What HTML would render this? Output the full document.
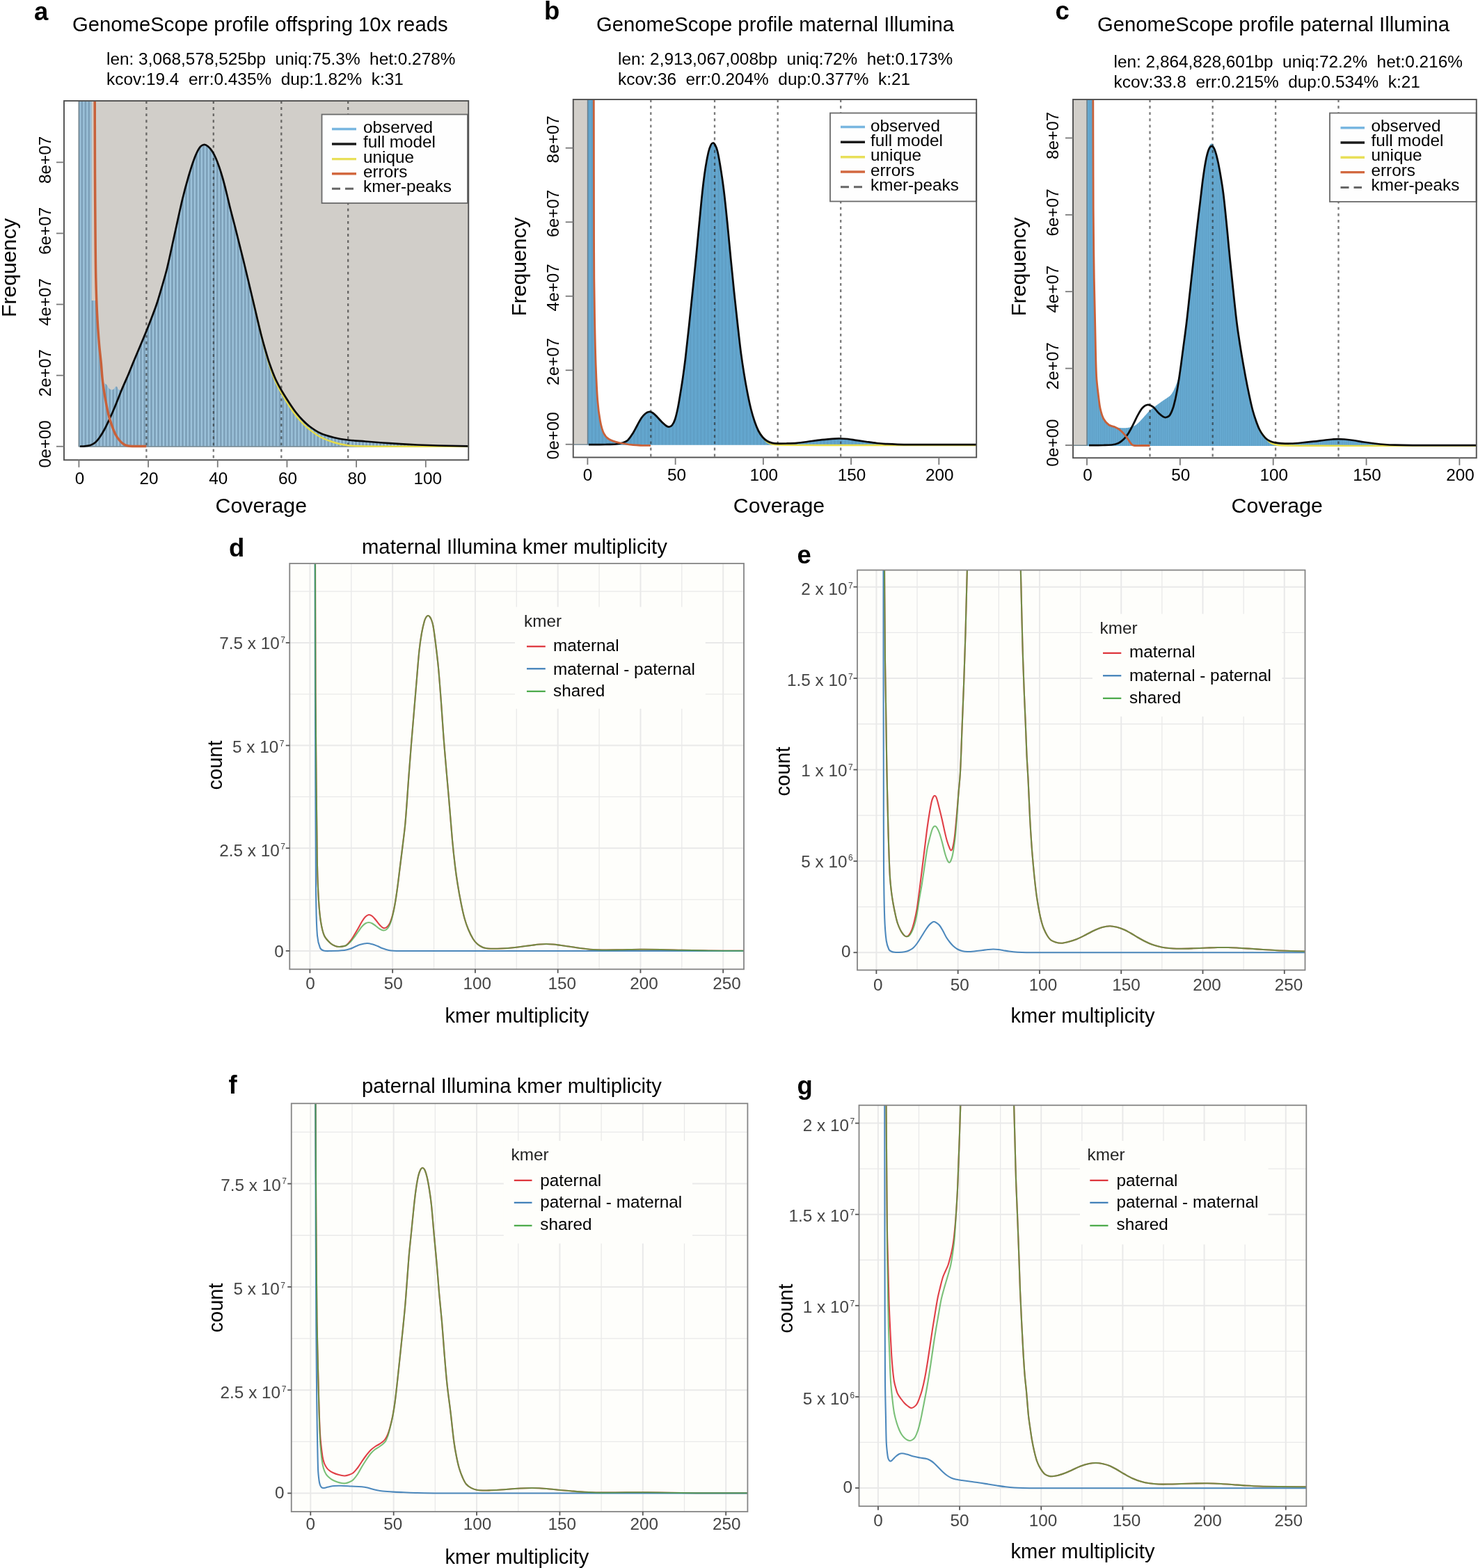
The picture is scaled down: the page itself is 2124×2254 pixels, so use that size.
<!DOCTYPE html>
<html lang="en">
<head>
<meta charset="utf-8">
<title>GenomeScope profiles and kmer multiplicity</title>
<style>
html,body{margin:0;padding:0;background:#fff;}
body{width:2124px;height:2254px;overflow:hidden;font-family:"Liberation Sans",Arial,Helvetica,sans-serif;}
svg{display:block;}
text{font-family:"Liberation Sans",Arial,Helvetica,sans-serif;}
</style>
</head>
<body>
<svg xmlns="http://www.w3.org/2000/svg" width="2124" height="2254" viewBox="0 0 2124 2254" font-family="'Liberation Sans', Arial, Helvetica, sans-serif" role="img" aria-label="GenomeScope profiles and k-mer multiplicity plots">
<defs><pattern id="stripeA" patternUnits="userSpaceOnUse" x="113.4" y="0" width="4.984" height="8"><rect x="0" y="0" width="4.984" height="8" fill="#7c9fb8"/><rect x="0.9" y="0" width="2.2" height="8" fill="#9fc5dd"/></pattern><pattern id="stripeB" patternUnits="userSpaceOnUse" x="844.4" y="0" width="5.054" height="8"><rect x="0" y="0" width="5.054" height="8" fill="#64a7cf"/><rect x="0" y="0" width="2.5" height="8" fill="#5f9fc6"/></pattern><pattern id="stripeC" patternUnits="userSpaceOnUse" x="1562" y="0" width="2.68" height="8"><rect x="0" y="0" width="2.68" height="8" fill="#69aed6"/><rect x="0" y="0" width="1.2" height="8" fill="#5c9cc3"/></pattern><clipPath id="ca"><rect x="92" y="145" width="581.25" height="516.25"/></clipPath><clipPath id="cb"><rect x="823.75" y="143" width="579.45" height="514.5"/></clipPath><clipPath id="cc"><rect x="1542" y="143" width="579.75" height="515.25"/></clipPath><clipPath id="cd"><rect x="416.25" y="810" width="652.75" height="583.3"/></clipPath><clipPath id="ce"><rect x="1232" y="819.5" width="643.5" height="575"/></clipPath><clipPath id="cf"><rect x="418.75" y="1586.25" width="655.65" height="586.75"/></clipPath><clipPath id="cg"><rect x="1234.5" y="1588.75" width="642.8" height="576.45"/></clipPath></defs>
<g id="panel-a">
<rect x="92" y="145" width="581.25" height="516.25" fill="#fff"/>
<rect x="113.4" y="145" width="559.85" height="496.75" fill="#d1cec9"/>
<g clip-path="url(#ca)">
<path d="M113.4 641.75L113.4 145L131.6 145L131.6 432L137.6 432L138.5 440C138.83 443.33 139.26 446.66 139.5 450C140.59 464.99 141.29 480.02 142.5 495C143.23 504.02 144.42 512.99 145.3 522C146.08 530 146.21 538.07 147.5 546C147.8 547.84 148.82 549.56 150 551C150.67 551.82 152.08 551.72 152.8 552.5C154.6 554.45 155.29 557.39 157.4 559C158.8 560.07 160.94 560.59 162.6 560C164.62 559.28 165.05 555.5 167.2 555.5C169.06 555.5 168.89 559.07 170.5 560C171.8 560.75 174.2 561.27 175 560C179.46 552.93 181.75 544.7 185 537C187.59 530.87 189.95 524.65 192.5 518.5C195.62 510.98 198.85 503.51 202 496C204.93 489.01 207.9 482.03 210.75 475C213.24 468.86 215.65 462.69 218 456.5C220.4 450.19 222.87 443.9 225 437.5C227.53 429.9 229.76 422.19 232 414.5C234.76 405.03 237.65 395.58 240 386C243.66 371.08 246.66 356 250 341C254.16 322.33 258.01 303.59 262.5 285C265.34 273.25 268.56 261.59 272 250C274.4 241.92 276.9 233.84 280 226C281.92 221.15 283.95 216.23 287 212C288.41 210.05 290.61 208.3 293 208C295.15 207.73 297.3 209.16 299 210.5C301.41 212.41 303.3 214.94 305 217.5C306.98 220.48 308.55 223.73 310 227C311.89 231.24 313.49 235.61 315 240C316.82 245.28 318.46 250.63 320 256C321.8 262.3 323.41 268.65 325 275C327.08 283.31 328.92 291.69 331 300C333.09 308.35 335.37 316.66 337.5 325C339.71 333.66 341.83 342.33 344 351C346 359 348.04 366.99 350 375C352.04 383.32 354.02 391.66 356 400C358.18 409.16 360.33 418.33 362.5 427.5C364.67 436.67 366.82 445.84 369 455C370.98 463.34 372.88 471.7 375 480C376.88 487.36 378.88 494.7 381 502C383.05 509.04 385.09 516.08 387.5 523C390.09 530.42 392.78 537.83 396 545C398.62 550.85 401.8 556.44 405 562C408.14 567.45 411.55 572.74 415 578C418.22 582.91 421.42 587.85 425 592.5C428.1 596.53 431.45 600.36 435 604C438.13 607.21 441.4 610.33 445 613C449.76 616.52 454.62 620.04 460 622.5C466.38 625.41 473.2 627.3 480 629C486.57 630.64 493.28 631.68 500 632.5C508.3 633.51 516.67 633.83 525 634.5C533.33 635.17 541.66 635.88 550 636.5C558.33 637.12 566.66 637.7 575 638.2C583.33 638.7 591.66 639.15 600 639.5C610 639.92 620 640.25 630 640.5C644.16 640.85 658.33 641.03 672.5 641.3L673.3 641.75Z" fill="url(#stripeA)" stroke="none" stroke-width="1"/>
<line x1="113.4" y1="145" x2="113.4" y2="642.25" stroke="#6b7f8a" stroke-width="1.6"/>
<line x1="113.4" y1="642.05" x2="673" y2="642.05" stroke="#70858f" stroke-width="1.6"/>
<line x1="210.4" y1="145" x2="210.4" y2="661.25" stroke="#262626" stroke-width="2.3" stroke-dasharray="3.9 5.2" stroke-opacity="0.62"/>
<line x1="306.8" y1="145" x2="306.8" y2="661.25" stroke="#262626" stroke-width="2.3" stroke-dasharray="3.9 5.2" stroke-opacity="0.62"/>
<line x1="404.3" y1="145" x2="404.3" y2="661.25" stroke="#262626" stroke-width="2.3" stroke-dasharray="3.9 5.2" stroke-opacity="0.62"/>
<line x1="500.2" y1="145" x2="500.2" y2="661.25" stroke="#262626" stroke-width="2.3" stroke-dasharray="3.9 5.2" stroke-opacity="0.62"/>
<path d="M362.5 427.5C364.67 436.67 366.82 445.84 369 455C370.98 463.34 372.94 471.68 375 480C376.94 487.85 378.86 495.7 381 503.5C383.03 510.87 385.08 518.25 387.5 525.5C390.08 533.25 392.76 541 396 548.5C398.6 554.52 401.8 560.27 405 566C408.14 571.61 411.51 577.1 415 582.5C418.18 587.43 421.42 592.35 425 597C428.1 601.03 431.45 604.86 435 608.5C438.13 611.71 441.46 614.74 445 617.5C449.81 621.25 454.6 625.15 460 628C466.35 631.36 473.14 633.89 480 636C486.52 638 493.23 639.47 500 640.3C508.28 641.31 516.66 641.37 525 641.5C550 641.87 575 641.73 600 641.8C624.17 641.87 648.33 641.87 672.5 641.9" fill="none" stroke="#e6dc4a" stroke-width="2.4"/>
<path d="M115 641.7C117.33 641.57 119.68 641.56 122 641.3C124.68 641 127.45 640.9 130 640C132.53 639.1 134.95 637.74 137 636C139.35 634.01 141.23 631.51 143 629C145.58 625.33 147.88 621.46 150 617.5C152.89 612.11 155.44 606.55 158 601C160.44 595.71 162.77 590.38 165 585C168.44 576.71 171.55 568.28 175 560C178.22 552.28 181.75 544.7 185 537C187.59 530.87 189.95 524.65 192.5 518.5C195.62 510.98 198.85 503.51 202 496C204.93 489.01 207.9 482.03 210.75 475C213.24 468.86 215.65 462.69 218 456.5C220.4 450.19 222.87 443.9 225 437.5C227.53 429.9 229.76 422.19 232 414.5C234.76 405.03 237.65 395.58 240 386C243.66 371.08 246.66 356 250 341C254.16 322.33 258.01 303.59 262.5 285C265.34 273.25 268.56 261.59 272 250C274.4 241.92 276.9 233.84 280 226C281.92 221.15 283.95 216.23 287 212C288.41 210.05 290.61 208.3 293 208C295.15 207.73 297.3 209.16 299 210.5C301.41 212.41 303.3 214.94 305 217.5C306.98 220.48 308.55 223.73 310 227C311.89 231.24 313.49 235.61 315 240C316.82 245.28 318.46 250.63 320 256C321.8 262.3 323.41 268.65 325 275C327.08 283.31 328.92 291.69 331 300C333.09 308.35 335.37 316.66 337.5 325C339.71 333.66 341.83 342.33 344 351C346 359 348.04 366.99 350 375C352.04 383.32 354.02 391.66 356 400C358.18 409.16 360.33 418.33 362.5 427.5C364.67 436.67 366.82 445.84 369 455C370.98 463.34 372.88 471.7 375 480C376.88 487.36 378.88 494.7 381 502C383.05 509.04 385.09 516.08 387.5 523C390.09 530.42 392.78 537.83 396 545C398.62 550.85 401.8 556.44 405 562C408.14 567.45 411.55 572.74 415 578C418.22 582.91 421.42 587.85 425 592.5C428.1 596.53 431.45 600.36 435 604C438.13 607.21 441.4 610.33 445 613C449.76 616.52 454.62 620.04 460 622.5C466.38 625.41 473.2 627.3 480 629C486.57 630.64 493.28 631.68 500 632.5C508.3 633.51 516.67 633.83 525 634.5C533.33 635.17 541.66 635.88 550 636.5C558.33 637.12 566.66 637.7 575 638.2C583.33 638.7 591.66 639.15 600 639.5C610 639.92 620 640.25 630 640.5C644.16 640.85 658.33 641.03 672.5 641.3" fill="none" stroke="#0a0a0a" stroke-width="2.75" stroke-linejoin="round"/>
<path d="M136.2 140C136.3 176.67 136.35 213.33 136.5 250C136.61 276.67 136.77 303.33 137 330C137.2 353.33 137.31 376.67 137.8 400C138.15 416.67 138.68 433.34 139.5 450C140.24 465.01 141.29 480.02 142.5 495C143.23 504.02 144.45 512.99 145.3 522C146.12 530.66 146.48 539.36 147.5 548C148.48 556.37 149.85 564.7 151.3 573C152.62 580.53 154 588.07 155.8 595.5C157.04 600.61 158.67 605.63 160.4 610.6C161.98 615.14 163.54 619.71 165.7 624C167.32 627.22 169.4 630.22 171.7 633C173.43 635.09 175.47 636.96 177.7 638.5C179.28 639.59 181.13 640.34 183 640.8C185.28 641.36 187.66 641.44 190 641.5C196.73 641.67 203.47 641.5 210.2 641.5" fill="none" stroke="#c8613a" stroke-width="3.5" stroke-linejoin="round" stroke-linecap="butt"/>
</g>
<rect x="462.5" y="164.5" width="209.5" height="127.5" fill="#fefefe" stroke="#6a6a6a" stroke-width="1.8"/>
<line x1="477" y1="185.5" x2="512" y2="185.5" stroke="#78b6e0" stroke-width="3.4"/>
<text x="522" y="190.5" font-size="24.3">observed</text>
<line x1="477" y1="207" x2="512" y2="207" stroke="#1a1a1a" stroke-width="3.4"/>
<text x="522" y="212" font-size="24.3">full model</text>
<line x1="477" y1="228.6" x2="512" y2="228.6" stroke="#e8df58" stroke-width="3.4"/>
<text x="522" y="233.6" font-size="24.3">unique</text>
<line x1="477" y1="249.8" x2="512" y2="249.8" stroke="#d2683f" stroke-width="3.4"/>
<text x="522" y="255.2" font-size="24.3">errors</text>
<line x1="477" y1="271.3" x2="508" y2="271.3" stroke="#666" stroke-width="3" stroke-dasharray="12 7"/>
<text x="522" y="275.5" font-size="24.3">kmer-peaks</text>
<rect x="92" y="145" width="581.25" height="516.25" fill="none" stroke="#505050" stroke-width="1.9"/>
<line x1="113.4" y1="661.25" x2="113.4" y2="671.75" stroke="#7a7a7a" stroke-width="1.8"/>
<text x="114.4" y="696.2" font-size="24.3" text-anchor="middle">0</text>
<line x1="213.08" y1="661.25" x2="213.08" y2="671.75" stroke="#7a7a7a" stroke-width="1.8"/>
<text x="214.08" y="696.2" font-size="24.3" text-anchor="middle">20</text>
<line x1="312.76" y1="661.25" x2="312.76" y2="671.75" stroke="#7a7a7a" stroke-width="1.8"/>
<text x="313.76" y="696.2" font-size="24.3" text-anchor="middle">40</text>
<line x1="412.44" y1="661.25" x2="412.44" y2="671.75" stroke="#7a7a7a" stroke-width="1.8"/>
<text x="413.44" y="696.2" font-size="24.3" text-anchor="middle">60</text>
<line x1="512.12" y1="661.25" x2="512.12" y2="671.75" stroke="#7a7a7a" stroke-width="1.8"/>
<text x="513.12" y="696.2" font-size="24.3" text-anchor="middle">80</text>
<line x1="611.8" y1="661.25" x2="611.8" y2="671.75" stroke="#7a7a7a" stroke-width="1.8"/>
<text x="614.8" y="696.2" font-size="24.3" text-anchor="middle">100</text>
<line x1="81" y1="641.75" x2="92" y2="641.75" stroke="#7a7a7a" stroke-width="1.8"/>
<text x="73" y="638.25" font-size="24.3" text-anchor="middle" transform="rotate(-90 73 638.25)">0e+00</text>
<line x1="81" y1="539.65" x2="92" y2="539.65" stroke="#7a7a7a" stroke-width="1.8"/>
<text x="73" y="536.15" font-size="24.3" text-anchor="middle" transform="rotate(-90 73 536.15)">2e+07</text>
<line x1="81" y1="437.55" x2="92" y2="437.55" stroke="#7a7a7a" stroke-width="1.8"/>
<text x="73" y="434.05" font-size="24.3" text-anchor="middle" transform="rotate(-90 73 434.05)">4e+07</text>
<line x1="81" y1="335.45" x2="92" y2="335.45" stroke="#7a7a7a" stroke-width="1.8"/>
<text x="73" y="331.95" font-size="24.3" text-anchor="middle" transform="rotate(-90 73 331.95)">6e+07</text>
<line x1="81" y1="233.35" x2="92" y2="233.35" stroke="#7a7a7a" stroke-width="1.8"/>
<text x="73" y="229.85" font-size="24.3" text-anchor="middle" transform="rotate(-90 73 229.85)">8e+07</text>
<text x="375.3" y="737" font-size="30.3" text-anchor="middle">Coverage</text>
<text x="23.2" y="384.8" font-size="30.1" text-anchor="middle" transform="rotate(-90 23.2 384.8)">Frequency</text>
<text x="104" y="44.5" font-size="29.28">GenomeScope profile offspring 10x reads</text>
<text x="153" y="93" font-size="24.38" xml:space="preserve">len: 3,068,578,525bp  uniq:75.3%  het:0.278%</text>
<text x="153" y="122" font-size="24.38" xml:space="preserve">kcov:19.4  err:0.435%  dup:1.82%  k:31</text>
<text x="49" y="29" font-size="36.5" font-weight="bold">a</text>
</g>
<g id="panel-b">
<rect x="823.75" y="143" width="579.45" height="514.5" fill="#fff"/>
<rect x="823.75" y="143" width="19.65" height="495.75" fill="#d1cec9"/>
<g clip-path="url(#cb)">
<path d="M844.4 639.75L844.4 143L853.3 143L853.5 300C853.6 333.33 853.55 366.67 853.8 400C853.98 423.34 854.35 446.67 854.8 470C855.15 488.34 855.52 506.67 856.2 525C856.82 541.68 857.39 558.36 858.7 575C859.49 585.05 860.66 595.09 862.5 605C863.61 610.97 864.9 617.02 867.5 622.5C869.15 625.98 871.7 629.32 875 631.3C879.49 634 884.79 635.44 890 636C893.38 636.37 896.7 634.82 900 634C900.72 633.82 901.52 633.57 902 633C904.9 629.52 907.57 625.83 910 622C912.24 618.48 913.96 614.65 916 611C917.96 607.48 919.7 603.81 922 600.5C923.55 598.27 925.39 596.21 927.5 594.5C928.95 593.33 930.65 592.18 932.5 592C934.39 591.82 936.4 592.48 938 593.5C940.68 595.22 942.75 597.75 945 600C947.42 602.42 949.53 605.13 952 607.5C953.88 609.3 955.77 611.16 958 612.5C959.18 613.21 960.65 613.75 962 613.5C963.55 613.21 965.05 612.25 966 611C967.81 608.63 969.06 605.83 970 603C971.74 597.78 972.88 592.38 974 587C975.38 580.37 976.39 573.68 977.5 567C978.72 559.68 979.94 552.35 981 545C982.44 535.01 983.8 525.02 985 515C986.8 500.02 988.39 485.01 990 470C991.72 454.01 993.35 438 995 422C996.68 405.67 998.4 389.34 1000 373C1001.73 355.34 1003.29 337.66 1005 320C1006.62 303.33 1008.13 286.64 1010 270C1011.13 259.97 1012.44 249.97 1014 240C1015.1 232.96 1016.35 225.93 1018 219C1018.85 215.41 1019.9 211.82 1021.5 208.5C1022.11 207.23 1023.09 205.62 1024.5 205.5C1025.8 205.39 1026.86 206.87 1027.5 208C1029.08 210.8 1030.22 213.88 1031 217C1032.73 223.91 1033.85 230.97 1035 238C1036.85 249.3 1038.58 260.63 1040 272C1041.91 287.3 1043.43 302.66 1045 318C1046.77 335.32 1048.3 352.67 1050 370C1051.63 386.67 1053.26 403.34 1055 420C1056.6 435.34 1058.29 450.67 1060 466C1061.45 479.01 1062.82 492.02 1064.5 505C1065.89 515.69 1067.48 526.36 1069.2 537C1070.71 546.36 1072.38 555.7 1074.2 565C1075.71 572.7 1077.29 580.39 1079.2 588C1080.72 594.07 1082.47 600.08 1084.5 606C1086.08 610.6 1087.79 615.17 1090 619.5C1091.64 622.71 1093.65 625.77 1096 628.5C1097.85 630.65 1100.06 632.55 1102.5 634C1104.8 635.36 1107.4 636.2 1110 636.8C1112.61 637.41 1115.32 637.51 1118 637.6C1122 637.74 1126 637.62 1130 637.5C1135 637.35 1140.01 637.22 1145 636.8C1150.02 636.38 1155.01 635.67 1160 635C1165.01 634.33 1169.98 633.42 1175 632.8C1179.99 632.18 1184.99 631.74 1190 631.3C1193.33 631.01 1196.66 630.75 1200 630.6C1202.66 630.48 1205.33 630.44 1208 630.5C1211.34 630.57 1214.68 630.65 1218 631C1222.02 631.42 1226 632.21 1230 632.8C1235 633.54 1240 634.3 1245 635C1250 635.7 1254.98 636.46 1260 637C1264.99 637.53 1269.99 637.9 1275 638.2C1280 638.5 1285 638.69 1290 638.8C1296.67 638.95 1303.33 638.99 1310 639C1341 639.05 1372 639 1403 639L1403 639.75Z" fill="url(#stripeB)" stroke="none" stroke-width="1"/>
<line x1="844.4" y1="143" x2="844.4" y2="639.25" stroke="#6d7f88" stroke-width="1.6"/>
<line x1="823.75" y1="639.05" x2="845" y2="639.05" stroke="#70858f" stroke-width="1.6"/>
<line x1="935.3" y1="143" x2="935.3" y2="657.5" stroke="#262626" stroke-width="2.3" stroke-dasharray="3.9 5.2" stroke-opacity="0.62"/>
<line x1="1027" y1="143" x2="1027" y2="657.5" stroke="#262626" stroke-width="2.3" stroke-dasharray="3.9 5.2" stroke-opacity="0.62"/>
<line x1="1117.7" y1="143" x2="1117.7" y2="657.5" stroke="#262626" stroke-width="2.3" stroke-dasharray="3.9 5.2" stroke-opacity="0.62"/>
<line x1="1208.2" y1="143" x2="1208.2" y2="657.5" stroke="#262626" stroke-width="2.3" stroke-dasharray="3.9 5.2" stroke-opacity="0.62"/>
<path d="M1090 619.5C1092 622.5 1093.78 625.66 1096 628.5C1097.96 631.01 1099.91 633.65 1102.5 635.5C1104.69 637.07 1107.4 637.81 1110 638.5C1112.6 639.19 1115.31 639.56 1118 639.6C1145.33 640.06 1172.67 639.94 1200 640C1233.33 640.07 1266.67 640 1300 640C1334.33 640 1368.67 640 1403 640" fill="none" stroke="#e6dc4a" stroke-width="2.4"/>
<path d="M846 639C854 639 862 639.1 870 639C875 638.94 880.02 639 885 638.5C888.38 638.16 891.77 637.55 895 636.5C897.48 635.7 900.12 634.81 902 633C905.26 629.85 907.57 625.83 910 622C912.24 618.48 913.96 614.65 916 611C917.96 607.48 919.7 603.81 922 600.5C923.55 598.27 925.39 596.21 927.5 594.5C928.95 593.33 930.65 592.18 932.5 592C934.39 591.82 936.4 592.48 938 593.5C940.68 595.22 942.75 597.75 945 600C947.42 602.42 949.53 605.13 952 607.5C953.88 609.3 955.77 611.16 958 612.5C959.18 613.21 960.65 613.75 962 613.5C963.55 613.21 965.05 612.25 966 611C967.81 608.63 969.06 605.83 970 603C971.74 597.78 972.88 592.38 974 587C975.38 580.37 976.39 573.68 977.5 567C978.72 559.68 979.94 552.35 981 545C982.44 535.01 983.8 525.02 985 515C986.8 500.02 988.39 485.01 990 470C991.72 454.01 993.35 438 995 422C996.68 405.67 998.4 389.34 1000 373C1001.73 355.34 1003.29 337.66 1005 320C1006.62 303.33 1008.13 286.64 1010 270C1011.13 259.97 1012.44 249.97 1014 240C1015.1 232.96 1016.35 225.93 1018 219C1018.85 215.41 1019.9 211.82 1021.5 208.5C1022.11 207.23 1023.09 205.62 1024.5 205.5C1025.8 205.39 1026.86 206.87 1027.5 208C1029.08 210.8 1030.22 213.88 1031 217C1032.73 223.91 1033.85 230.97 1035 238C1036.85 249.3 1038.58 260.63 1040 272C1041.91 287.3 1043.43 302.66 1045 318C1046.77 335.32 1048.3 352.67 1050 370C1051.63 386.67 1053.26 403.34 1055 420C1056.6 435.34 1058.29 450.67 1060 466C1061.45 479.01 1062.82 492.02 1064.5 505C1065.89 515.69 1067.48 526.36 1069.2 537C1070.71 546.36 1072.38 555.7 1074.2 565C1075.71 572.7 1077.29 580.39 1079.2 588C1080.72 594.07 1082.47 600.08 1084.5 606C1086.08 610.6 1087.79 615.17 1090 619.5C1091.64 622.71 1093.65 625.77 1096 628.5C1097.85 630.65 1100.06 632.55 1102.5 634C1104.8 635.36 1107.4 636.2 1110 636.8C1112.61 637.41 1115.32 637.51 1118 637.6C1122 637.74 1126 637.62 1130 637.5C1135 637.35 1140.01 637.22 1145 636.8C1150.02 636.38 1155.01 635.67 1160 635C1165.01 634.33 1169.98 633.42 1175 632.8C1179.99 632.18 1184.99 631.74 1190 631.3C1193.33 631.01 1196.66 630.75 1200 630.6C1202.66 630.48 1205.33 630.44 1208 630.5C1211.34 630.57 1214.68 630.65 1218 631C1222.02 631.42 1226 632.21 1230 632.8C1235 633.54 1240 634.3 1245 635C1250 635.7 1254.98 636.46 1260 637C1264.99 637.53 1269.99 637.9 1275 638.2C1280 638.5 1285 638.69 1290 638.8C1296.67 638.95 1303.33 638.99 1310 639C1341 639.05 1372 639 1403 639" fill="none" stroke="#0a0a0a" stroke-width="2.75" stroke-linejoin="round"/>
<path d="M853.3 138C853.37 192 853.4 246 853.5 300C853.56 333.33 853.55 366.67 853.8 400C853.98 423.34 854.35 446.67 854.8 470C855.15 488.34 855.52 506.67 856.2 525C856.82 541.68 857.39 558.36 858.7 575C859.49 585.05 860.66 595.09 862.5 605C863.61 610.97 864.9 617.02 867.5 622.5C869.15 625.98 871.73 629.26 875 631.3C879.49 634.1 884.85 635.27 890 636.5C896.57 638.08 903.3 638.9 910 639.7C913.98 640.17 918 640.2 922 640.3C926.33 640.4 930.67 640.3 935 640.3" fill="none" stroke="#c8613a" stroke-width="2.8" stroke-linejoin="round" stroke-linecap="butt"/>
</g>
<rect x="1193" y="162.5" width="210.2" height="127" fill="#fefefe" stroke="#6a6a6a" stroke-width="1.8"/>
<line x1="1208" y1="182.5" x2="1243" y2="182.5" stroke="#78b6e0" stroke-width="3.4"/>
<text x="1251" y="188.5" font-size="24.3">observed</text>
<line x1="1208" y1="204.2" x2="1243" y2="204.2" stroke="#1a1a1a" stroke-width="3.4"/>
<text x="1251" y="209.8" font-size="24.3">full model</text>
<line x1="1208" y1="225.7" x2="1243" y2="225.7" stroke="#e8df58" stroke-width="3.4"/>
<text x="1251" y="231" font-size="24.3">unique</text>
<line x1="1208" y1="247" x2="1243" y2="247" stroke="#d2683f" stroke-width="3.4"/>
<text x="1251" y="252.8" font-size="24.3">errors</text>
<line x1="1208" y1="268.7" x2="1239" y2="268.7" stroke="#666" stroke-width="3" stroke-dasharray="12 7"/>
<text x="1251" y="273.5" font-size="24.3">kmer-peaks</text>
<rect x="823.75" y="143" width="579.45" height="514.5" fill="none" stroke="#505050" stroke-width="1.9"/>
<line x1="844.4" y1="657.5" x2="844.4" y2="668" stroke="#7a7a7a" stroke-width="1.8"/>
<text x="844.4" y="691" font-size="24.3" text-anchor="middle">0</text>
<line x1="970.62" y1="657.5" x2="970.62" y2="668" stroke="#7a7a7a" stroke-width="1.8"/>
<text x="972.62" y="691" font-size="24.3" text-anchor="middle">50</text>
<line x1="1096.85" y1="657.5" x2="1096.85" y2="668" stroke="#7a7a7a" stroke-width="1.8"/>
<text x="1097.85" y="691" font-size="24.3" text-anchor="middle">100</text>
<line x1="1223.08" y1="657.5" x2="1223.08" y2="668" stroke="#7a7a7a" stroke-width="1.8"/>
<text x="1224.08" y="691" font-size="24.3" text-anchor="middle">150</text>
<line x1="1349.3" y1="657.5" x2="1349.3" y2="668" stroke="#7a7a7a" stroke-width="1.8"/>
<text x="1350.3" y="691" font-size="24.3" text-anchor="middle">200</text>
<line x1="812.75" y1="638.75" x2="823.75" y2="638.75" stroke="#7a7a7a" stroke-width="1.8"/>
<text x="802.5" y="626.25" font-size="24.3" text-anchor="middle" transform="rotate(-90 802.5 626.25)">0e+00</text>
<line x1="812.75" y1="532.25" x2="823.75" y2="532.25" stroke="#7a7a7a" stroke-width="1.8"/>
<text x="802.5" y="519.75" font-size="24.3" text-anchor="middle" transform="rotate(-90 802.5 519.75)">2e+07</text>
<line x1="812.75" y1="425.75" x2="823.75" y2="425.75" stroke="#7a7a7a" stroke-width="1.8"/>
<text x="802.5" y="413.25" font-size="24.3" text-anchor="middle" transform="rotate(-90 802.5 413.25)">4e+07</text>
<line x1="812.75" y1="319.25" x2="823.75" y2="319.25" stroke="#7a7a7a" stroke-width="1.8"/>
<text x="802.5" y="306.75" font-size="24.3" text-anchor="middle" transform="rotate(-90 802.5 306.75)">6e+07</text>
<line x1="812.75" y1="212.75" x2="823.75" y2="212.75" stroke="#7a7a7a" stroke-width="1.8"/>
<text x="802.5" y="200.25" font-size="24.3" text-anchor="middle" transform="rotate(-90 802.5 200.25)">8e+07</text>
<text x="1119.5" y="737" font-size="30.3" text-anchor="middle">Coverage</text>
<text x="755.5" y="383.5" font-size="30.1" text-anchor="middle" transform="rotate(-90 755.5 383.5)">Frequency</text>
<text x="857" y="44.5" font-size="29.28">GenomeScope profile maternal Illumina</text>
<text x="888" y="93" font-size="24.38" xml:space="preserve">len: 2,913,067,008bp  uniq:72%  het:0.173%</text>
<text x="888" y="122" font-size="24.38" xml:space="preserve">kcov:36  err:0.204%  dup:0.377%  k:21</text>
<text x="782" y="27.5" font-size="36.5" font-weight="bold">b</text>
</g>
<g id="panel-c">
<rect x="1542" y="143" width="579.75" height="515.25" fill="#fff"/>
<rect x="1542" y="143" width="19.4" height="497" fill="#d1cec9"/>
<g clip-path="url(#cc)">
<path d="M1562 641L1562 143L1570.8 143L1571.2 300C1571.57 333.33 1571.79 366.67 1572.3 400C1572.66 423.34 1573.25 446.67 1573.8 470C1574.35 493.33 1574.49 516.69 1575.6 540C1576.06 549.64 1577.36 559.22 1578.5 568.8C1579.26 575.22 1579.86 581.69 1581.3 588C1582.44 592.97 1583.76 598.02 1586.2 602.5C1588.01 605.84 1590.69 608.81 1593.8 611C1596.31 612.77 1599.51 613.29 1602.5 614C1605.61 614.73 1608.81 615.12 1612 615.3C1614.66 615.45 1617.35 615.34 1620 615C1622.04 614.74 1624.04 614.14 1626 613.5C1628.15 612.8 1630.49 612.36 1632.3 611C1635.92 608.28 1638.86 604.76 1642 601.5C1645.6 597.76 1648.67 593.51 1652.5 590C1656.37 586.45 1660.77 583.52 1665 580.4C1668.14 578.08 1671.44 575.99 1674.6 573.7C1677.2 571.82 1680.1 570.24 1682.3 567.9C1684.3 565.77 1685.66 563.1 1687 560.5C1688.57 557.45 1689.82 554.23 1691 551C1692.32 547.39 1693.47 543.71 1694.5 540C1695.14 537.7 1695.65 535.36 1696 533C1697.48 523.02 1698.68 513 1700 503C1701.68 490.33 1703.47 477.68 1705 465C1706.81 450.02 1708.33 435 1710 420C1711.67 405 1713.33 390 1715 375C1716.67 360 1718.28 344.99 1720 330C1721.61 315.99 1723.32 302 1725 288C1726.32 277 1727.49 265.98 1729 255C1730.15 246.64 1731.46 238.3 1733 230C1734.12 223.96 1734.95 217.8 1737 212C1737.78 209.81 1738.97 206.5 1741.3 206.5C1743.61 206.5 1744.73 209.83 1745.5 212C1747.68 218.13 1748.65 224.63 1750 231C1751.48 237.97 1752.8 244.98 1754 252C1755.47 260.64 1756.93 269.3 1758 278C1759.93 293.64 1761.42 309.32 1763 325C1764.58 340.66 1765.93 356.34 1767.5 372C1769.1 388.01 1770.78 404.01 1772.5 420C1774.11 435.01 1775.58 450.03 1777.5 465C1779.08 477.37 1781 489.69 1783 502C1785.17 515.36 1787.54 528.69 1790 542C1791.54 550.36 1793.23 558.69 1795 567C1796.57 574.36 1798.09 581.73 1800 589C1801.42 594.4 1803.15 599.73 1805 605C1806.49 609.23 1808.03 613.47 1810 617.5C1811.38 620.33 1813.13 622.97 1815 625.5C1816.47 627.49 1818.08 629.43 1820 631C1821.79 632.47 1823.87 633.6 1826 634.5C1828.07 635.38 1830.29 635.91 1832.5 636.3C1835.64 636.85 1838.82 637.13 1842 637.3C1846.33 637.53 1850.67 637.62 1855 637.5C1860.01 637.36 1865.01 636.93 1870 636.5C1875.84 636 1881.67 635.37 1887.5 634.7C1893.34 634.03 1899.16 633.18 1905 632.5C1908.33 632.11 1911.66 631.77 1915 631.5C1917.83 631.27 1920.66 631 1923.5 631C1926.34 631 1929.17 631.24 1932 631.5C1936.34 631.9 1940.68 632.38 1945 633C1950.02 633.72 1954.99 634.75 1960 635.5C1964.99 636.25 1969.99 636.92 1975 637.5C1979.99 638.08 1984.99 638.63 1990 639C1994.99 639.37 2000 639.57 2005 639.7C2013.33 639.91 2021.67 639.98 2030 640C2060.33 640.08 2090.67 640 2121 640L2121.7 641Z" fill="url(#stripeC)" stroke="none" stroke-width="1"/>
<line x1="1562" y1="143" x2="1562" y2="640.5" stroke="#6d7f88" stroke-width="1.6"/>
<line x1="1542" y1="640.3" x2="1562.5" y2="640.3" stroke="#70858f" stroke-width="1.6"/>
<line x1="1652.5" y1="143" x2="1652.5" y2="658.25" stroke="#262626" stroke-width="2.3" stroke-dasharray="3.9 5.2" stroke-opacity="0.62"/>
<line x1="1742.7" y1="143" x2="1742.7" y2="658.25" stroke="#262626" stroke-width="2.3" stroke-dasharray="3.9 5.2" stroke-opacity="0.62"/>
<line x1="1833.1" y1="143" x2="1833.1" y2="658.25" stroke="#262626" stroke-width="2.3" stroke-dasharray="3.9 5.2" stroke-opacity="0.62"/>
<line x1="1923.5" y1="143" x2="1923.5" y2="658.25" stroke="#262626" stroke-width="2.3" stroke-dasharray="3.9 5.2" stroke-opacity="0.62"/>
<path d="M1810 617.5C1811.67 620.17 1813.13 622.97 1815 625.5C1816.47 627.49 1818.25 629.25 1820 631C1821.92 632.92 1823.71 635.04 1826 636.5C1827.96 637.75 1830.24 638.46 1832.5 639C1835.61 639.74 1838.8 640.21 1842 640.3C1861.33 640.82 1880.67 640.74 1900 640.8C1933.33 640.91 1966.67 640.8 2000 640.8C2040.33 640.8 2080.67 640.8 2121 640.8" fill="none" stroke="#e6dc4a" stroke-width="2.4"/>
<path d="M1565 640C1571.67 640 1578.33 640.1 1585 640C1589.24 639.94 1593.5 640.06 1597.7 639.5C1600.98 639.06 1604.31 638.42 1607.3 637C1610.19 635.63 1612.73 633.55 1615 631.3C1617.58 628.74 1619.74 625.76 1621.7 622.7C1624.26 618.7 1626.31 614.41 1628.5 610.2C1630.82 605.74 1632.75 601.09 1635.2 596.7C1637.22 593.07 1639.01 589.19 1641.9 586.2C1643.95 584.07 1646.65 581.99 1649.6 581.8C1652.4 581.62 1655.09 583.48 1657.3 585.2C1660.34 587.57 1662.23 591.13 1665 593.8C1667.05 595.78 1669.24 597.66 1671.7 599.1C1672.85 599.77 1674.28 600.21 1675.6 600C1677.35 599.72 1679.29 599.09 1680.4 597.7C1682.65 594.88 1683.97 591.39 1685.2 588C1686.85 583.45 1687.92 578.71 1689 574C1690.36 568.04 1691.47 562.03 1692.5 556C1693.81 548.36 1694.91 540.68 1696 533C1697.41 523.01 1698.68 513 1700 503C1701.68 490.33 1703.47 477.68 1705 465C1706.81 450.02 1708.33 435 1710 420C1711.67 405 1713.33 390 1715 375C1716.67 360 1718.28 344.99 1720 330C1721.61 315.99 1723.32 302 1725 288C1726.32 277 1727.49 265.98 1729 255C1730.15 246.64 1731.34 238.28 1733 230C1734.01 224.93 1735.02 219.78 1737 215C1737.84 212.97 1739.1 210 1741.3 210C1743.48 210 1744.67 212.99 1745.5 215C1747.62 220.12 1748.76 225.6 1750 231C1751.6 237.94 1752.8 244.98 1754 252C1755.47 260.64 1756.93 269.3 1758 278C1759.93 293.64 1761.42 309.32 1763 325C1764.58 340.66 1765.93 356.34 1767.5 372C1769.1 388.01 1770.78 404.01 1772.5 420C1774.11 435.01 1775.58 450.03 1777.5 465C1779.08 477.37 1781 489.69 1783 502C1785.17 515.36 1787.54 528.69 1790 542C1791.54 550.36 1793.23 558.69 1795 567C1796.57 574.36 1798.09 581.73 1800 589C1801.42 594.4 1803.15 599.73 1805 605C1806.49 609.23 1808.03 613.47 1810 617.5C1811.38 620.33 1813.13 622.97 1815 625.5C1816.47 627.49 1818.08 629.43 1820 631C1821.79 632.47 1823.87 633.6 1826 634.5C1828.07 635.38 1830.29 635.91 1832.5 636.3C1835.64 636.85 1838.82 637.13 1842 637.3C1846.33 637.53 1850.67 637.62 1855 637.5C1860.01 637.36 1865.01 636.93 1870 636.5C1875.84 636 1881.67 635.37 1887.5 634.7C1893.34 634.03 1899.16 633.18 1905 632.5C1908.33 632.11 1911.66 631.77 1915 631.5C1917.83 631.27 1920.66 631 1923.5 631C1926.34 631 1929.17 631.24 1932 631.5C1936.34 631.9 1940.68 632.38 1945 633C1950.02 633.72 1954.99 634.75 1960 635.5C1964.99 636.25 1969.99 636.92 1975 637.5C1979.99 638.08 1984.99 638.63 1990 639C1994.99 639.37 2000 639.57 2005 639.7C2013.33 639.91 2021.67 639.98 2030 640C2060.33 640.08 2090.67 640 2121 640" fill="none" stroke="#0a0a0a" stroke-width="2.75" stroke-linejoin="round"/>
<path d="M1570.8 138C1570.93 192 1570.89 246 1571.2 300C1571.39 333.33 1571.79 366.67 1572.3 400C1572.66 423.34 1573.25 446.67 1573.8 470C1574.35 493.33 1574.49 516.69 1575.6 540C1576.06 549.64 1577.36 559.22 1578.5 568.8C1579.26 575.22 1579.86 581.69 1581.3 588C1582.44 592.97 1583.76 598.02 1586.2 602.5C1588.01 605.84 1590.69 608.81 1593.8 611C1596.31 612.77 1599.7 612.75 1602.5 614C1604.86 615.06 1607.17 616.3 1609.2 617.9C1611.7 619.87 1613.91 622.2 1616 624.6C1618.09 627.01 1619.82 629.72 1621.7 632.3C1623.32 634.52 1624.5 637.12 1626.5 639C1627.51 639.96 1629.02 640.35 1630.4 640.5C1633.58 640.85 1636.8 640.5 1640 640.5C1644.17 640.5 1648.33 640.5 1652.5 640.5" fill="none" stroke="#c8613a" stroke-width="2.8" stroke-linejoin="round" stroke-linecap="butt"/>
</g>
<rect x="1911" y="162.5" width="210.6" height="127.5" fill="#fefefe" stroke="#6a6a6a" stroke-width="1.8"/>
<line x1="1926.5" y1="183.7" x2="1961" y2="183.7" stroke="#78b6e0" stroke-width="3.4"/>
<text x="1970.5" y="188.5" font-size="24.3">observed</text>
<line x1="1926.5" y1="205" x2="1961" y2="205" stroke="#1a1a1a" stroke-width="3.4"/>
<text x="1970.5" y="210.3" font-size="24.3">full model</text>
<line x1="1926.5" y1="226.3" x2="1961" y2="226.3" stroke="#e8df58" stroke-width="3.4"/>
<text x="1970.5" y="231" font-size="24.3">unique</text>
<line x1="1926.5" y1="247.6" x2="1961" y2="247.6" stroke="#d2683f" stroke-width="3.4"/>
<text x="1970.5" y="252.8" font-size="24.3">errors</text>
<line x1="1926.5" y1="269.5" x2="1957" y2="269.5" stroke="#666" stroke-width="3" stroke-dasharray="12 7"/>
<text x="1970.5" y="274" font-size="24.3">kmer-peaks</text>
<rect x="1542" y="143" width="579.75" height="515.25" fill="none" stroke="#505050" stroke-width="1.9"/>
<line x1="1562" y1="658.25" x2="1562" y2="668.75" stroke="#7a7a7a" stroke-width="1.8"/>
<text x="1563" y="691" font-size="24.3" text-anchor="middle">0</text>
<line x1="1695.85" y1="658.25" x2="1695.85" y2="668.75" stroke="#7a7a7a" stroke-width="1.8"/>
<text x="1696.85" y="691" font-size="24.3" text-anchor="middle">50</text>
<line x1="1829.7" y1="658.25" x2="1829.7" y2="668.75" stroke="#7a7a7a" stroke-width="1.8"/>
<text x="1830.7" y="691" font-size="24.3" text-anchor="middle">100</text>
<line x1="1963.55" y1="658.25" x2="1963.55" y2="668.75" stroke="#7a7a7a" stroke-width="1.8"/>
<text x="1964.55" y="691" font-size="24.3" text-anchor="middle">150</text>
<line x1="2097.4" y1="658.25" x2="2097.4" y2="668.75" stroke="#7a7a7a" stroke-width="1.8"/>
<text x="2098.4" y="691" font-size="24.3" text-anchor="middle">200</text>
<line x1="1531" y1="640" x2="1542" y2="640" stroke="#7a7a7a" stroke-width="1.8"/>
<text x="1521" y="636.5" font-size="24.3" text-anchor="middle" transform="rotate(-90 1521 636.5)">0e+00</text>
<line x1="1531" y1="529.6" x2="1542" y2="529.6" stroke="#7a7a7a" stroke-width="1.8"/>
<text x="1521" y="526.1" font-size="24.3" text-anchor="middle" transform="rotate(-90 1521 526.1)">2e+07</text>
<line x1="1531" y1="419.2" x2="1542" y2="419.2" stroke="#7a7a7a" stroke-width="1.8"/>
<text x="1521" y="415.7" font-size="24.3" text-anchor="middle" transform="rotate(-90 1521 415.7)">4e+07</text>
<line x1="1531" y1="308.8" x2="1542" y2="308.8" stroke="#7a7a7a" stroke-width="1.8"/>
<text x="1521" y="305.3" font-size="24.3" text-anchor="middle" transform="rotate(-90 1521 305.3)">6e+07</text>
<line x1="1531" y1="198.4" x2="1542" y2="198.4" stroke="#7a7a7a" stroke-width="1.8"/>
<text x="1521" y="194.9" font-size="24.3" text-anchor="middle" transform="rotate(-90 1521 194.9)">8e+07</text>
<text x="1835.2" y="737" font-size="30.3" text-anchor="middle">Coverage</text>
<text x="1474" y="383.5" font-size="30.1" text-anchor="middle" transform="rotate(-90 1474 383.5)">Frequency</text>
<text x="1577" y="44.5" font-size="29.28">GenomeScope profile paternal Illumina</text>
<text x="1600.5" y="97" font-size="24.38" xml:space="preserve">len: 2,864,828,601bp  uniq:72.2%  het:0.216%</text>
<text x="1600.5" y="126.2" font-size="24.38" xml:space="preserve">kcov:33.8  err:0.215%  dup:0.534%  k:21</text>
<text x="1516.5" y="28" font-size="36.5" font-weight="bold">c</text>
</g>
<g id="panel-d">
<rect x="416.25" y="810" width="652.75" height="583.3" fill="#fefefb"/>
<g clip-path="url(#cd)">
<line x1="445.4" y1="810" x2="445.4" y2="1393.3" stroke="#e9e9e9" stroke-width="2"/>
<line x1="504.78" y1="810" x2="504.78" y2="1393.3" stroke="#e9e9e9" stroke-width="1.3"/>
<line x1="564.16" y1="810" x2="564.16" y2="1393.3" stroke="#e9e9e9" stroke-width="2"/>
<line x1="623.54" y1="810" x2="623.54" y2="1393.3" stroke="#e9e9e9" stroke-width="1.3"/>
<line x1="682.92" y1="810" x2="682.92" y2="1393.3" stroke="#e9e9e9" stroke-width="2"/>
<line x1="742.3" y1="810" x2="742.3" y2="1393.3" stroke="#e9e9e9" stroke-width="1.3"/>
<line x1="801.68" y1="810" x2="801.68" y2="1393.3" stroke="#e9e9e9" stroke-width="2"/>
<line x1="861.06" y1="810" x2="861.06" y2="1393.3" stroke="#e9e9e9" stroke-width="1.3"/>
<line x1="920.44" y1="810" x2="920.44" y2="1393.3" stroke="#e9e9e9" stroke-width="2"/>
<line x1="979.82" y1="810" x2="979.82" y2="1393.3" stroke="#e9e9e9" stroke-width="1.3"/>
<line x1="1039.2" y1="810" x2="1039.2" y2="1393.3" stroke="#e9e9e9" stroke-width="2"/>
<line x1="416.25" y1="1366.9" x2="1069" y2="1366.9" stroke="#e9e9e9" stroke-width="2"/>
<line x1="416.25" y1="1293.08" x2="1069" y2="1293.08" stroke="#e9e9e9" stroke-width="1.3"/>
<line x1="416.25" y1="1219.25" x2="1069" y2="1219.25" stroke="#e9e9e9" stroke-width="2"/>
<line x1="416.25" y1="1145.43" x2="1069" y2="1145.43" stroke="#e9e9e9" stroke-width="1.3"/>
<line x1="416.25" y1="1071.6" x2="1069" y2="1071.6" stroke="#e9e9e9" stroke-width="2"/>
<line x1="416.25" y1="997.78" x2="1069" y2="997.78" stroke="#e9e9e9" stroke-width="1.3"/>
<line x1="416.25" y1="923.95" x2="1069" y2="923.95" stroke="#e9e9e9" stroke-width="2"/>
<line x1="416.25" y1="850.13" x2="1069" y2="850.13" stroke="#e9e9e9" stroke-width="1.3"/>
<rect x="740" y="872.5" width="273.8" height="146.3" fill="#fefefb"/>
<path d="M453 805C453.17 870 453.19 935 453.5 1000C453.69 1040 454.09 1080 454.5 1120C454.93 1161.67 455.17 1203.34 456 1245C456.33 1261.68 456.96 1278.35 458 1295C458.63 1305.03 459.41 1315.08 461 1325C462.09 1331.79 463.17 1338.74 466 1345C467.95 1349.32 471.54 1352.76 475 1356C476.96 1357.84 479.5 1359 482 1360C483.73 1360.69 485.64 1360.95 487.5 1361C489.35 1361.05 491.19 1360.66 493 1360.3C494.53 1359.99 496.25 1359.94 497.5 1359C500.04 1357.08 502.08 1354.54 504 1352C506.26 1349.01 508.05 1345.7 510 1342.5C511.71 1339.7 513.37 1336.85 515 1334C516.7 1331.02 518.18 1327.91 520 1325C521.52 1322.57 522.97 1320.03 525 1318C526.37 1316.63 528.07 1315.19 530 1315C531.79 1314.82 533.56 1315.92 535 1317C536.98 1318.49 538.4 1320.61 540 1322.5C542.07 1324.94 543.79 1327.69 546 1330C547.48 1331.54 548.96 1333.36 551 1334C552.47 1334.46 554.25 1333.9 555.5 1333C557.42 1331.61 558.94 1329.62 560 1327.5C561.82 1323.87 562.93 1319.92 564 1316C565.44 1310.73 566.54 1305.37 567.5 1300C568.87 1292.37 569.95 1284.68 571 1277C572.45 1266.35 573.67 1255.67 575 1245C576.33 1234.33 577.72 1223.67 579 1213C580.22 1202.84 581.62 1192.7 582.5 1182.5C584.45 1160.02 585.8 1137.5 587.5 1115C588.63 1100 589.78 1085 591 1070C592.28 1054.16 593.67 1038.33 595 1022.5C596.33 1006.67 597.64 990.83 599 975C600.14 961.66 601.07 948.31 602.5 935C603.4 926.63 604.54 918.29 606 910C607.04 904.11 608.37 898.26 610 892.5C610.55 890.56 611.38 888.68 612.5 887C613.09 886.11 613.94 885.11 615 885C615.97 884.9 616.88 885.75 617.5 886.5C618.6 887.82 619.4 889.39 620 891C621.08 893.92 621.96 896.93 622.5 900C623.96 908.29 624.96 916.65 626 925C627.46 936.65 628.9 948.31 630 960C631.57 976.65 632.75 993.33 634 1010C635.25 1026.66 636.23 1043.34 637.5 1060C638.65 1075.01 639.96 1090 641.25 1105C642.46 1119.17 643.79 1133.33 645 1147.5C646.71 1167.5 648.16 1187.52 650 1207.5C651.16 1220.02 652.5 1232.52 654 1245C655 1253.35 656.17 1261.69 657.5 1270C659 1279.36 660.64 1288.7 662.5 1298C663.97 1305.37 665.5 1312.75 667.5 1320C669 1325.44 670.83 1330.79 673 1336C675.01 1340.82 677.25 1345.56 680 1350C681.62 1352.61 683.72 1354.94 686 1357C687.93 1358.74 690.18 1360.14 692.5 1361.3C694.22 1362.16 696.12 1362.64 698 1363C700.3 1363.44 702.66 1363.65 705 1363.7C710 1363.81 715.01 1363.74 720 1363.5C726.68 1363.18 733.35 1362.67 740 1362C745.02 1361.5 750 1360.66 755 1360C758.33 1359.56 761.66 1359.12 765 1358.7C768.33 1358.28 771.65 1357.78 775 1357.5C778.33 1357.22 781.66 1357 785 1357C788.34 1357 791.68 1357.2 795 1357.5C798.35 1357.8 801.67 1358.35 805 1358.8C808.34 1359.25 811.67 1359.72 815 1360.2C819 1360.78 822.99 1361.44 827 1362C831.33 1362.61 835.66 1363.18 840 1363.7C843.99 1364.18 847.99 1364.71 852 1365C856.33 1365.31 860.66 1365.47 865 1365.5C873.33 1365.57 881.67 1365.41 890 1365.3C900 1365.17 910 1364.85 920 1364.8C930 1364.75 940 1364.83 950 1365C960 1365.17 970 1365.57 980 1365.8C990 1366.03 1000 1366.25 1010 1366.4C1020 1366.55 1030 1366.63 1040 1366.7C1049.83 1366.77 1059.67 1366.77 1069.5 1366.8" fill="none" stroke="#dd2f36" stroke-width="2.1" stroke-linejoin="round" stroke-opacity="0.92"/>
<path d="M452.6 805C452.73 870 452.86 935 453 1000C453.09 1040 453.16 1080 453.3 1120C453.43 1156.67 453.61 1193.33 453.8 1230C453.91 1251.67 453.79 1273.34 454.2 1295C454.52 1311.67 454.57 1328.38 456 1345C456.51 1350.96 457.69 1356.98 460 1362.5C460.82 1364.47 462.96 1365.89 465 1366.5C468.2 1367.46 471.66 1367.06 475 1367C481.67 1366.89 488.36 1366.71 495 1366C497.73 1365.71 500.39 1364.87 503 1364C505.41 1363.2 507.65 1361.97 510 1361C512.65 1359.9 515.24 1358.59 518 1357.8C521.1 1356.91 524.28 1356.09 527.5 1356C530.04 1355.93 532.55 1356.65 535 1357.3C537.57 1357.98 540.04 1359 542.5 1360C544.71 1360.9 546.78 1362.11 549 1363C550.96 1363.78 552.96 1364.45 555 1365C557.3 1365.62 559.63 1366.18 562 1366.5C564.65 1366.85 567.33 1366.96 570 1367C580 1367.13 590 1367 600 1367C756.5 1367 913 1367 1069.5 1367" fill="none" stroke="#3a7cb6" stroke-width="2.1" stroke-linejoin="round" stroke-opacity="0.9"/>
<path d="M453 805C453.17 870 453.19 935 453.5 1000C453.69 1040 454.09 1080 454.5 1120C454.93 1161.67 455.17 1203.34 456 1245C456.33 1261.68 456.96 1278.35 458 1295C458.63 1305.03 459.41 1315.08 461 1325C462.09 1331.79 463.17 1338.74 466 1345C467.95 1349.32 471.54 1352.76 475 1356C476.96 1357.84 479.5 1359 482 1360C483.73 1360.69 485.64 1360.95 487.5 1361C489.35 1361.05 491.19 1360.66 493 1360.3C494.53 1359.99 496.17 1359.82 497.5 1359C499.91 1357.51 502.03 1355.55 504 1353.5C506.22 1351.19 508.07 1348.55 510 1346C511.73 1343.72 513.33 1341.33 515 1339C516.67 1336.67 518.12 1334.16 520 1332C521.47 1330.31 523.08 1328.65 525 1327.5C526.49 1326.6 528.26 1326 530 1326C531.74 1326 533.44 1326.72 535 1327.5C536.82 1328.41 538.35 1329.8 540 1331C542.02 1332.47 543.85 1334.23 546 1335.5C547.55 1336.41 549.21 1337.41 551 1337.5C552.58 1337.58 554.32 1337.05 555.5 1336C557.47 1334.25 558.92 1331.91 560 1329.5C561.79 1325.51 562.92 1321.24 564 1317C565.43 1311.39 566.5 1305.7 567.5 1300C568.84 1292.36 569.95 1284.68 571 1277C572.45 1266.35 573.67 1255.67 575 1245C576.33 1234.33 577.72 1223.67 579 1213C580.22 1202.84 581.62 1192.7 582.5 1182.5C584.45 1160.02 585.8 1137.5 587.5 1115C588.63 1100 589.78 1085 591 1070C592.28 1054.16 593.67 1038.33 595 1022.5C596.33 1006.67 597.64 990.83 599 975C600.14 961.66 601.07 948.31 602.5 935C603.4 926.63 604.54 918.29 606 910C607.04 904.11 608.37 898.26 610 892.5C610.55 890.56 611.38 888.68 612.5 887C613.09 886.11 613.94 885.11 615 885C615.97 884.9 616.88 885.75 617.5 886.5C618.6 887.82 619.4 889.39 620 891C621.08 893.92 621.96 896.93 622.5 900C623.96 908.29 624.96 916.65 626 925C627.46 936.65 628.9 948.31 630 960C631.57 976.65 632.75 993.33 634 1010C635.25 1026.66 636.23 1043.34 637.5 1060C638.65 1075.01 639.96 1090 641.25 1105C642.46 1119.17 643.79 1133.33 645 1147.5C646.71 1167.5 648.16 1187.52 650 1207.5C651.16 1220.02 652.5 1232.52 654 1245C655 1253.35 656.17 1261.69 657.5 1270C659 1279.36 660.64 1288.7 662.5 1298C663.97 1305.37 665.5 1312.75 667.5 1320C669 1325.44 670.83 1330.79 673 1336C675.01 1340.82 677.25 1345.56 680 1350C681.62 1352.61 683.72 1354.94 686 1357C687.93 1358.74 690.18 1360.14 692.5 1361.3C694.22 1362.16 696.12 1362.64 698 1363C700.3 1363.44 702.66 1363.65 705 1363.7C710 1363.81 715.01 1363.74 720 1363.5C726.68 1363.18 733.35 1362.67 740 1362C745.02 1361.5 750 1360.66 755 1360C758.33 1359.56 761.66 1359.12 765 1358.7C768.33 1358.28 771.65 1357.78 775 1357.5C778.33 1357.22 781.66 1357 785 1357C788.34 1357 791.68 1357.2 795 1357.5C798.35 1357.8 801.67 1358.35 805 1358.8C808.34 1359.25 811.67 1359.72 815 1360.2C819 1360.78 822.99 1361.44 827 1362C831.33 1362.61 835.66 1363.18 840 1363.7C843.99 1364.18 847.99 1364.71 852 1365C856.33 1365.31 860.66 1365.47 865 1365.5C873.33 1365.57 881.67 1365.41 890 1365.3C900 1365.17 910 1364.85 920 1364.8C930 1364.75 940 1364.83 950 1365C960 1365.17 970 1365.57 980 1365.8C990 1366.03 1000 1366.25 1010 1366.4C1020 1366.55 1030 1366.63 1040 1366.7C1049.83 1366.77 1059.67 1366.77 1069.5 1366.8" fill="none" stroke="#46a845" stroke-width="2.1" stroke-linejoin="round" stroke-opacity="0.72"/>
</g>
<text x="753" y="901.3" font-size="24.3" fill="#222">kmer</text>
<line x1="757" y1="929.3" x2="783.8" y2="929.3" stroke="#dd2f36" stroke-width="2.2"/>
<text x="795" y="936" font-size="24.3">maternal</text>
<line x1="757" y1="961.3" x2="783.8" y2="961.3" stroke="#3a7cb6" stroke-width="2.2"/>
<text x="795" y="969.5" font-size="24.3">maternal - paternal</text>
<line x1="757" y1="993.8" x2="783.8" y2="993.8" stroke="#46a845" stroke-width="2.2"/>
<text x="795" y="1001.3" font-size="24.3">shared</text>
<rect x="416.25" y="810" width="652.75" height="583.3" fill="none" stroke="#858585" stroke-width="1.8"/>
<line x1="445.4" y1="1393.3" x2="445.4" y2="1398.8" stroke="#555" stroke-width="1.8"/>
<text x="446.1" y="1421.5" font-size="24.3" text-anchor="middle" fill="#444444">0</text>
<line x1="564.16" y1="1393.3" x2="564.16" y2="1398.8" stroke="#555" stroke-width="1.8"/>
<text x="565.16" y="1421.5" font-size="24.3" text-anchor="middle" fill="#444444">50</text>
<line x1="682.92" y1="1393.3" x2="682.92" y2="1398.8" stroke="#555" stroke-width="1.8"/>
<text x="685.72" y="1421.5" font-size="24.3" text-anchor="middle" fill="#444444">100</text>
<line x1="801.68" y1="1393.3" x2="801.68" y2="1398.8" stroke="#555" stroke-width="1.8"/>
<text x="807.68" y="1421.5" font-size="24.3" text-anchor="middle" fill="#444444">150</text>
<line x1="920.44" y1="1393.3" x2="920.44" y2="1398.8" stroke="#555" stroke-width="1.8"/>
<text x="925.44" y="1421.5" font-size="24.3" text-anchor="middle" fill="#444444">200</text>
<line x1="1039.2" y1="1393.3" x2="1039.2" y2="1398.8" stroke="#555" stroke-width="1.8"/>
<text x="1044.4" y="1421.5" font-size="24.3" text-anchor="middle" fill="#444444">250</text>
<line x1="410.75" y1="1366.9" x2="416.25" y2="1366.9" stroke="#555" stroke-width="1.8"/>
<text x="407.75" y="1375.6" font-size="24.3" text-anchor="end" fill="#444444">0</text>
<line x1="410.75" y1="1219.25" x2="416.25" y2="1219.25" stroke="#555" stroke-width="1.8"/>
<text x="410.05" y="1230.95" font-size="24.3" text-anchor="end" fill="#444444">2.5 x 10<tspan font-size="12" dy="-9.6" dx="1.6">7</tspan></text>
<line x1="410.75" y1="1071.6" x2="416.25" y2="1071.6" stroke="#555" stroke-width="1.8"/>
<text x="408.55" y="1082.3" font-size="24.3" text-anchor="end" fill="#444444">5 x 10<tspan font-size="12" dy="-9.6" dx="1.6">7</tspan></text>
<line x1="410.75" y1="923.95" x2="416.25" y2="923.95" stroke="#555" stroke-width="1.8"/>
<text x="410.05" y="933.25" font-size="24.3" text-anchor="end" fill="#444444">7.5 x 10<tspan font-size="12" dy="-9.6" dx="1.6">7</tspan></text>
<text x="742.9" y="1470" font-size="29.1" text-anchor="middle">kmer multiplicity</text>
<text x="319" y="1100" font-size="29.1" text-anchor="middle" transform="rotate(-90 319 1100)">count</text>
<text x="520" y="795.8" font-size="29.25">maternal Illumina kmer multiplicity</text>
<text x="329" y="800" font-size="36.5" font-weight="bold">d</text>
</g>
<g id="panel-e">
<rect x="1232" y="819.5" width="643.5" height="575" fill="#fefefb"/>
<g clip-path="url(#ce)">
<line x1="1259.4" y1="819.5" x2="1259.4" y2="1394.5" stroke="#e9e9e9" stroke-width="2"/>
<line x1="1318.04" y1="819.5" x2="1318.04" y2="1394.5" stroke="#e9e9e9" stroke-width="1.3"/>
<line x1="1376.68" y1="819.5" x2="1376.68" y2="1394.5" stroke="#e9e9e9" stroke-width="2"/>
<line x1="1435.31" y1="819.5" x2="1435.31" y2="1394.5" stroke="#e9e9e9" stroke-width="1.3"/>
<line x1="1493.95" y1="819.5" x2="1493.95" y2="1394.5" stroke="#e9e9e9" stroke-width="2"/>
<line x1="1552.59" y1="819.5" x2="1552.59" y2="1394.5" stroke="#e9e9e9" stroke-width="1.3"/>
<line x1="1611.23" y1="819.5" x2="1611.23" y2="1394.5" stroke="#e9e9e9" stroke-width="2"/>
<line x1="1669.86" y1="819.5" x2="1669.86" y2="1394.5" stroke="#e9e9e9" stroke-width="1.3"/>
<line x1="1728.5" y1="819.5" x2="1728.5" y2="1394.5" stroke="#e9e9e9" stroke-width="2"/>
<line x1="1787.14" y1="819.5" x2="1787.14" y2="1394.5" stroke="#e9e9e9" stroke-width="1.3"/>
<line x1="1845.78" y1="819.5" x2="1845.78" y2="1394.5" stroke="#e9e9e9" stroke-width="2"/>
<line x1="1232" y1="1369.25" x2="1875.5" y2="1369.25" stroke="#e9e9e9" stroke-width="2"/>
<line x1="1232" y1="1303.55" x2="1875.5" y2="1303.55" stroke="#e9e9e9" stroke-width="1.3"/>
<line x1="1232" y1="1237.85" x2="1875.5" y2="1237.85" stroke="#e9e9e9" stroke-width="2"/>
<line x1="1232" y1="1172.15" x2="1875.5" y2="1172.15" stroke="#e9e9e9" stroke-width="1.3"/>
<line x1="1232" y1="1106.45" x2="1875.5" y2="1106.45" stroke="#e9e9e9" stroke-width="2"/>
<line x1="1232" y1="1040.75" x2="1875.5" y2="1040.75" stroke="#e9e9e9" stroke-width="1.3"/>
<line x1="1232" y1="975.05" x2="1875.5" y2="975.05" stroke="#e9e9e9" stroke-width="2"/>
<line x1="1232" y1="909.35" x2="1875.5" y2="909.35" stroke="#e9e9e9" stroke-width="1.3"/>
<line x1="1232" y1="843.65" x2="1875.5" y2="843.65" stroke="#e9e9e9" stroke-width="2"/>
<rect x="1570" y="882.5" width="272.5" height="147.5" fill="#fefefb"/>
<path d="M1271 815C1271.33 860 1271.54 905 1272 950C1272.21 970 1272.69 990 1273 1010C1273.36 1033.33 1273.63 1056.67 1274 1080C1274.29 1098.33 1274.6 1116.67 1275 1135C1275.43 1155 1275.89 1175 1276.5 1195C1277.14 1215.84 1277.67 1236.68 1278.75 1257.5C1279.17 1265.69 1280.04 1273.86 1281 1282C1281.71 1288.03 1282.7 1294.02 1283.75 1300C1284.7 1305.36 1285.79 1310.69 1287 1316C1287.88 1319.86 1288.75 1323.74 1290 1327.5C1291.09 1330.76 1292.46 1333.93 1294 1337C1294.97 1338.94 1296.18 1340.77 1297.5 1342.5C1298.36 1343.62 1299.33 1344.7 1300.5 1345.5C1301.22 1345.99 1302.14 1346.41 1303 1346.25C1304.14 1346.04 1305.28 1345.4 1306 1344.5C1307.68 1342.4 1309.02 1340 1310 1337.5C1311.71 1333.13 1312.86 1328.55 1314 1324C1315.36 1318.55 1316.58 1313.05 1317.5 1307.5C1318.91 1299.04 1319.89 1290.51 1321 1282C1322.39 1271.34 1323.67 1260.67 1325 1250C1326.33 1239.33 1327.67 1228.67 1329 1218C1330.17 1208.67 1331.22 1199.32 1332.5 1190C1333.55 1182.32 1334.73 1174.65 1336 1167C1336.81 1162.15 1337.61 1157.29 1338.75 1152.5C1339.28 1150.27 1340 1148.06 1341 1146C1341.44 1145.1 1342 1143.75 1343 1143.75C1344.12 1143.75 1345.11 1144.95 1345.5 1146C1347.49 1151.34 1348.58 1156.98 1350 1162.5C1351.41 1167.98 1352.73 1173.49 1354 1179C1355.23 1184.32 1356.26 1189.68 1357.5 1195C1358.59 1199.68 1359.62 1204.39 1361 1209C1362.12 1212.74 1363.42 1216.43 1365 1220C1365.43 1220.98 1365.96 1222.76 1367 1222.5C1368.3 1222.17 1368.63 1220.29 1369 1219C1370.06 1215.24 1370.68 1211.36 1371.25 1207.5C1372.01 1202.36 1372.48 1197.17 1373 1192C1373.73 1184.67 1374.37 1177.34 1375 1170C1375.87 1160 1376.67 1150 1377.5 1140C1378.33 1130 1379.46 1120.02 1380 1110C1381.13 1089.18 1381.67 1068.33 1382.5 1047.5C1383.33 1026.67 1384.24 1005.84 1385 985C1385.91 960 1386.76 935 1387.5 910C1388.43 878.34 1389.17 846.67 1390 815" fill="none" stroke="#dd2f36" stroke-width="2.1" stroke-linejoin="round" stroke-opacity="0.92"/>
<path d="M1466.75 815C1467.33 840 1467.88 865 1468.5 890C1468.96 908.33 1469.42 926.67 1470 945C1470.58 963.34 1471.28 981.67 1472 1000C1472.53 1013.34 1473.2 1026.67 1473.75 1040C1474.37 1055 1474.8 1070.01 1475.5 1085C1476.05 1096.67 1476.92 1108.33 1477.5 1120C1478.42 1138.33 1479.04 1156.67 1480 1175C1480.7 1188.34 1481.55 1201.67 1482.5 1215C1483.21 1225.01 1484.09 1235.01 1485 1245C1485.76 1253.34 1486.58 1261.68 1487.5 1270C1488.24 1276.68 1489.01 1283.35 1490 1290C1491.09 1297.36 1492.33 1304.7 1493.75 1312C1494.66 1316.7 1495.74 1321.38 1497 1326C1497.83 1329.05 1498.77 1332.09 1500 1335C1501.45 1338.43 1503.05 1341.83 1505 1345C1506.4 1347.27 1507.91 1349.59 1510 1351.25C1512.02 1352.85 1514.54 1353.75 1517 1354.5C1519.59 1355.28 1522.3 1355.88 1525 1355.8C1528.39 1355.71 1531.72 1354.85 1535 1354C1539.24 1352.91 1543.44 1351.62 1547.5 1350C1551.79 1348.28 1555.87 1346.07 1560 1344C1564.2 1341.9 1568.23 1339.46 1572.5 1337.5C1576.24 1335.78 1580.03 1334.1 1584 1333C1587.58 1332.01 1591.29 1331.29 1595 1331.25C1598.37 1331.22 1601.73 1331.98 1605 1332.8C1608.42 1333.66 1611.77 1334.84 1615 1336.25C1618.45 1337.75 1621.72 1339.65 1625 1341.5C1628.39 1343.41 1631.63 1345.56 1635 1347.5C1638.3 1349.4 1641.6 1351.3 1645 1353C1648.27 1354.63 1651.58 1356.22 1655 1357.5C1658.26 1358.72 1661.62 1359.66 1665 1360.5C1668.3 1361.32 1671.63 1362.02 1675 1362.5C1678.64 1363.02 1682.32 1363.3 1686 1363.5C1689.83 1363.71 1693.67 1363.78 1697.5 1363.75C1703.34 1363.71 1709.17 1363.49 1715 1363.3C1721.67 1363.08 1728.33 1362.75 1735 1362.5C1740 1362.31 1745 1362.08 1750 1362C1755 1361.92 1760 1361.88 1765 1362C1770 1362.12 1775 1362.43 1780 1362.7C1785.84 1363.01 1791.67 1363.37 1797.5 1363.75C1803.34 1364.13 1809.16 1364.61 1815 1365C1821.66 1365.44 1828.33 1365.92 1835 1366.25C1841.66 1366.58 1848.33 1366.79 1855 1367C1861.83 1367.21 1868.67 1367.33 1875.5 1367.5" fill="none" stroke="#dd2f36" stroke-width="2.1" stroke-linejoin="round" stroke-opacity="0.92"/>
<path d="M1269.5 815C1269.53 876.67 1269.54 938.33 1269.6 1000C1269.64 1036.67 1269.74 1073.33 1269.8 1110C1269.87 1155 1269.69 1200 1270 1245C1270.17 1270 1270.38 1295.01 1271.25 1320C1271.63 1330.86 1272.26 1341.74 1273.75 1352.5C1274.35 1356.81 1275.64 1361.07 1277.5 1365C1278.14 1366.35 1279.66 1367.13 1281 1367.8C1282.23 1368.41 1283.64 1368.6 1285 1368.75C1287.32 1369 1289.67 1369.08 1292 1369C1294.68 1368.91 1297.36 1368.72 1300 1368.25C1302.05 1367.88 1304.11 1367.37 1306 1366.5C1308.31 1365.44 1310.59 1364.18 1312.5 1362.5C1314.64 1360.63 1316.35 1358.31 1318 1356C1320.53 1352.46 1322.68 1348.67 1325 1345C1326.68 1342.34 1328.26 1339.62 1330 1337C1331.59 1334.61 1333.15 1332.19 1335 1330C1336.17 1328.61 1337.52 1327.36 1339 1326.3C1339.89 1325.67 1340.91 1325 1342 1325C1343.24 1325 1344.44 1325.64 1345.5 1326.3C1347.15 1327.33 1348.78 1328.49 1350 1330C1351.98 1332.44 1353.44 1335.27 1355 1338C1356.78 1341.11 1358.15 1344.44 1360 1347.5C1361.49 1349.95 1363.21 1352.26 1365 1354.5C1366.55 1356.43 1368.17 1358.33 1370 1360C1371.85 1361.68 1373.82 1363.28 1376 1364.5C1378.03 1365.63 1380.25 1366.44 1382.5 1367C1384.95 1367.61 1387.48 1367.93 1390 1368C1393.34 1368.1 1396.68 1367.8 1400 1367.5C1404.01 1367.14 1408 1366.5 1412 1366C1414.67 1365.67 1417.33 1365.26 1420 1365C1422.49 1364.76 1424.99 1364.5 1427.5 1364.5C1430.01 1364.5 1432.51 1364.71 1435 1365C1437.35 1365.28 1439.66 1365.81 1442 1366.2C1444.66 1366.64 1447.32 1367.16 1450 1367.5C1453.99 1368 1457.99 1368.42 1462 1368.7C1466.33 1369 1470.66 1369.18 1475 1369.25C1483.33 1369.38 1491.67 1369.3 1500 1369.3C1625.17 1369.32 1750.33 1369.3 1875.5 1369.3" fill="none" stroke="#3a7cb6" stroke-width="2.1" stroke-linejoin="round" stroke-opacity="0.9"/>
<path d="M1271 815C1271.33 860 1271.54 905 1272 950C1272.21 970 1272.69 990 1273 1010C1273.36 1033.33 1273.63 1056.67 1274 1080C1274.29 1098.33 1274.6 1116.67 1275 1135C1275.43 1155 1275.89 1175 1276.5 1195C1277.14 1215.84 1277.67 1236.68 1278.75 1257.5C1279.17 1265.69 1280.04 1273.86 1281 1282C1281.71 1288.03 1282.7 1294.02 1283.75 1300C1284.7 1305.36 1285.79 1310.69 1287 1316C1287.88 1319.86 1288.75 1323.74 1290 1327.5C1291.09 1330.76 1292.46 1333.93 1294 1337C1294.97 1338.94 1296.18 1340.77 1297.5 1342.5C1298.36 1343.62 1299.33 1344.7 1300.5 1345.5C1301.22 1345.99 1302.13 1346.25 1303 1346.25C1304.03 1346.25 1305.23 1346.19 1306 1345.5C1307.69 1343.99 1308.96 1342.01 1310 1340C1311.65 1336.81 1312.97 1333.44 1314 1330C1315.48 1325.08 1316.55 1320.04 1317.5 1315C1318.88 1307.7 1319.78 1300.32 1321 1293C1322.28 1285.32 1323.77 1277.68 1325 1270C1326.44 1261.02 1327.65 1252 1329 1243C1330.15 1235.33 1331.1 1227.63 1332.5 1220C1333.43 1214.95 1334.75 1209.98 1336 1205C1336.84 1201.65 1337.69 1198.29 1338.75 1195C1339.36 1193.11 1339.9 1191.15 1341 1189.5C1341.63 1188.56 1342.62 1187.4 1343.75 1187.5C1344.98 1187.61 1345.84 1188.95 1346.5 1190C1347.96 1192.34 1349.07 1194.9 1350 1197.5C1351.58 1201.92 1352.77 1206.47 1354 1211C1355.27 1215.64 1356.18 1220.37 1357.5 1225C1358.51 1228.55 1359.49 1232.14 1361 1235.5C1361.76 1237.19 1362.46 1239.51 1364.25 1240C1365.46 1240.33 1365.99 1238.14 1366.5 1237C1367.51 1234.76 1368.19 1232.39 1368.75 1230C1369.53 1226.71 1370 1223.35 1370.5 1220C1371.25 1215.01 1371.95 1210.01 1372.5 1205C1373.12 1199.35 1373.54 1193.67 1374 1188C1374.54 1181.34 1375.01 1174.67 1375.5 1168C1376.18 1158.67 1376.78 1149.33 1377.5 1140C1378.28 1130 1379.46 1120.02 1380 1110C1381.13 1089.18 1381.67 1068.33 1382.5 1047.5C1383.33 1026.67 1384.24 1005.84 1385 985C1385.91 960 1386.76 935 1387.5 910C1388.43 878.34 1389.17 846.67 1390 815" fill="none" stroke="#46a845" stroke-width="2.1" stroke-linejoin="round" stroke-opacity="0.72"/>
<path d="M1466.75 815C1467.33 840 1467.88 865 1468.5 890C1468.96 908.33 1469.42 926.67 1470 945C1470.58 963.34 1471.28 981.67 1472 1000C1472.53 1013.34 1473.2 1026.67 1473.75 1040C1474.37 1055 1474.8 1070.01 1475.5 1085C1476.05 1096.67 1476.92 1108.33 1477.5 1120C1478.42 1138.33 1479.04 1156.67 1480 1175C1480.7 1188.34 1481.55 1201.67 1482.5 1215C1483.21 1225.01 1484.09 1235.01 1485 1245C1485.76 1253.34 1486.58 1261.68 1487.5 1270C1488.24 1276.68 1489.01 1283.35 1490 1290C1491.09 1297.36 1492.33 1304.7 1493.75 1312C1494.66 1316.7 1495.74 1321.38 1497 1326C1497.83 1329.05 1498.77 1332.09 1500 1335C1501.45 1338.43 1503.05 1341.83 1505 1345C1506.4 1347.27 1507.91 1349.59 1510 1351.25C1512.02 1352.85 1514.54 1353.75 1517 1354.5C1519.59 1355.28 1522.3 1355.88 1525 1355.8C1528.39 1355.71 1531.72 1354.85 1535 1354C1539.24 1352.91 1543.44 1351.62 1547.5 1350C1551.79 1348.28 1555.87 1346.07 1560 1344C1564.2 1341.9 1568.23 1339.46 1572.5 1337.5C1576.24 1335.78 1580.03 1334.1 1584 1333C1587.58 1332.01 1591.29 1331.29 1595 1331.25C1598.37 1331.22 1601.73 1331.98 1605 1332.8C1608.42 1333.66 1611.77 1334.84 1615 1336.25C1618.45 1337.75 1621.72 1339.65 1625 1341.5C1628.39 1343.41 1631.63 1345.56 1635 1347.5C1638.3 1349.4 1641.6 1351.3 1645 1353C1648.27 1354.63 1651.58 1356.22 1655 1357.5C1658.26 1358.72 1661.62 1359.66 1665 1360.5C1668.3 1361.32 1671.63 1362.02 1675 1362.5C1678.64 1363.02 1682.32 1363.3 1686 1363.5C1689.83 1363.71 1693.67 1363.78 1697.5 1363.75C1703.34 1363.71 1709.17 1363.49 1715 1363.3C1721.67 1363.08 1728.33 1362.75 1735 1362.5C1740 1362.31 1745 1362.08 1750 1362C1755 1361.92 1760 1361.88 1765 1362C1770 1362.12 1775 1362.43 1780 1362.7C1785.84 1363.01 1791.67 1363.37 1797.5 1363.75C1803.34 1364.13 1809.16 1364.61 1815 1365C1821.66 1365.44 1828.33 1365.92 1835 1366.25C1841.66 1366.58 1848.33 1366.79 1855 1367C1861.83 1367.21 1868.67 1367.33 1875.5 1367.5" fill="none" stroke="#46a845" stroke-width="2.1" stroke-linejoin="round" stroke-opacity="0.72"/>
</g>
<text x="1580.5" y="910.8" font-size="24.3" fill="#222">kmer</text>
<line x1="1585" y1="938.8" x2="1611.3" y2="938.8" stroke="#dd2f36" stroke-width="2.2"/>
<text x="1623" y="945.3" font-size="24.3">maternal</text>
<line x1="1585" y1="971.3" x2="1611.3" y2="971.3" stroke="#3a7cb6" stroke-width="2.2"/>
<text x="1623" y="979.2" font-size="24.3">maternal - paternal</text>
<line x1="1585" y1="1003.8" x2="1611.3" y2="1003.8" stroke="#46a845" stroke-width="2.2"/>
<text x="1623" y="1010.8" font-size="24.3">shared</text>
<rect x="1232" y="819.5" width="643.5" height="575" fill="none" stroke="#858585" stroke-width="1.8"/>
<line x1="1259.4" y1="1394.5" x2="1259.4" y2="1400" stroke="#555" stroke-width="1.8"/>
<text x="1261.8" y="1423.9" font-size="24.3" text-anchor="middle" fill="#444444">0</text>
<line x1="1376.68" y1="1394.5" x2="1376.68" y2="1400" stroke="#555" stroke-width="1.8"/>
<text x="1379.18" y="1423.9" font-size="24.3" text-anchor="middle" fill="#444444">50</text>
<line x1="1493.95" y1="1394.5" x2="1493.95" y2="1400" stroke="#555" stroke-width="1.8"/>
<text x="1498.95" y="1423.9" font-size="24.3" text-anchor="middle" fill="#444444">100</text>
<line x1="1611.23" y1="1394.5" x2="1611.23" y2="1400" stroke="#555" stroke-width="1.8"/>
<text x="1618.63" y="1423.9" font-size="24.3" text-anchor="middle" fill="#444444">150</text>
<line x1="1728.5" y1="1394.5" x2="1728.5" y2="1400" stroke="#555" stroke-width="1.8"/>
<text x="1734.5" y="1423.9" font-size="24.3" text-anchor="middle" fill="#444444">200</text>
<line x1="1845.78" y1="1394.5" x2="1845.78" y2="1400" stroke="#555" stroke-width="1.8"/>
<text x="1851.98" y="1423.9" font-size="24.3" text-anchor="middle" fill="#444444">250</text>
<line x1="1226.5" y1="1369.25" x2="1232" y2="1369.25" stroke="#555" stroke-width="1.8"/>
<text x="1222.5" y="1376.45" font-size="24.3" text-anchor="end" fill="#444444">0</text>
<line x1="1226.5" y1="1237.85" x2="1232" y2="1237.85" stroke="#555" stroke-width="1.8"/>
<text x="1225.8" y="1246.85" font-size="24.3" text-anchor="end" fill="#444444">5 x 10<tspan font-size="12" dy="-9.6" dx="1.6">6</tspan></text>
<line x1="1226.5" y1="1106.45" x2="1232" y2="1106.45" stroke="#555" stroke-width="1.8"/>
<text x="1225.8" y="1116.35" font-size="24.3" text-anchor="end" fill="#444444">1 x 10<tspan font-size="12" dy="-9.6" dx="1.6">7</tspan></text>
<line x1="1226.5" y1="975.05" x2="1232" y2="975.05" stroke="#555" stroke-width="1.8"/>
<text x="1225.8" y="986.25" font-size="24.3" text-anchor="end" fill="#444444">1.5 x 10<tspan font-size="12" dy="-9.6" dx="1.6">7</tspan></text>
<line x1="1226.5" y1="843.65" x2="1232" y2="843.65" stroke="#555" stroke-width="1.8"/>
<text x="1225.8" y="855.25" font-size="24.3" text-anchor="end" fill="#444444">2 x 10<tspan font-size="12" dy="-9.6" dx="1.6">7</tspan></text>
<text x="1556" y="1470" font-size="29.1" text-anchor="middle">kmer multiplicity</text>
<text x="1134.6" y="1109" font-size="29.1" text-anchor="middle" transform="rotate(-90 1134.6 1109)">count</text>
<text x="1145.5" y="809.5" font-size="36.5" font-weight="bold">e</text>
</g>
<g id="panel-f">
<rect x="418.75" y="1586.25" width="655.65" height="586.75" fill="#fefefb"/>
<g clip-path="url(#cf)">
<line x1="446.3" y1="1586.25" x2="446.3" y2="2173" stroke="#e9e9e9" stroke-width="2"/>
<line x1="505.99" y1="1586.25" x2="505.99" y2="2173" stroke="#e9e9e9" stroke-width="1.3"/>
<line x1="565.68" y1="1586.25" x2="565.68" y2="2173" stroke="#e9e9e9" stroke-width="2"/>
<line x1="625.36" y1="1586.25" x2="625.36" y2="2173" stroke="#e9e9e9" stroke-width="1.3"/>
<line x1="685.05" y1="1586.25" x2="685.05" y2="2173" stroke="#e9e9e9" stroke-width="2"/>
<line x1="744.74" y1="1586.25" x2="744.74" y2="2173" stroke="#e9e9e9" stroke-width="1.3"/>
<line x1="804.43" y1="1586.25" x2="804.43" y2="2173" stroke="#e9e9e9" stroke-width="2"/>
<line x1="864.11" y1="1586.25" x2="864.11" y2="2173" stroke="#e9e9e9" stroke-width="1.3"/>
<line x1="923.8" y1="1586.25" x2="923.8" y2="2173" stroke="#e9e9e9" stroke-width="2"/>
<line x1="983.49" y1="1586.25" x2="983.49" y2="2173" stroke="#e9e9e9" stroke-width="1.3"/>
<line x1="1043.18" y1="1586.25" x2="1043.18" y2="2173" stroke="#e9e9e9" stroke-width="2"/>
<line x1="418.75" y1="2146.5" x2="1074.4" y2="2146.5" stroke="#e9e9e9" stroke-width="2"/>
<line x1="418.75" y1="2072.35" x2="1074.4" y2="2072.35" stroke="#e9e9e9" stroke-width="1.3"/>
<line x1="418.75" y1="1998.2" x2="1074.4" y2="1998.2" stroke="#e9e9e9" stroke-width="2"/>
<line x1="418.75" y1="1924.05" x2="1074.4" y2="1924.05" stroke="#e9e9e9" stroke-width="1.3"/>
<line x1="418.75" y1="1849.9" x2="1074.4" y2="1849.9" stroke="#e9e9e9" stroke-width="2"/>
<line x1="418.75" y1="1775.75" x2="1074.4" y2="1775.75" stroke="#e9e9e9" stroke-width="1.3"/>
<line x1="418.75" y1="1701.6" x2="1074.4" y2="1701.6" stroke="#e9e9e9" stroke-width="2"/>
<line x1="418.75" y1="1627.45" x2="1074.4" y2="1627.45" stroke="#e9e9e9" stroke-width="1.3"/>
<rect x="723.8" y="1640" width="271.2" height="147.5" fill="#fefefb"/>
<path d="M453.5 1580C453.67 1620 453.81 1660 454 1700C454.14 1728.67 454.29 1757.33 454.5 1786C454.79 1824 454.93 1862 455.5 1900C455.93 1928.67 456.7 1957.34 457.5 1986C458.2 2011 458.61 2036.02 460 2061C460.61 2072.04 461.95 2083.05 463.5 2094C463.96 2097.24 464.85 2100.43 466 2103.5C466.86 2105.8 468.07 2108 469.5 2110C470.6 2111.53 472.01 2112.84 473.5 2114C475.03 2115.19 476.74 2116.18 478.5 2117C480.92 2118.12 483.43 2119.1 486 2119.8C488.95 2120.6 491.95 2121.4 495 2121.5C497.04 2121.57 499.07 2120.96 501 2120.3C503.27 2119.53 505.62 2118.74 507.5 2117.25C510.04 2115.23 512.02 2112.57 514 2110C516.2 2107.14 517.96 2103.97 520 2101C521.96 2098.14 523.89 2095.25 526 2092.5C528.06 2089.83 530.12 2087.13 532.5 2084.75C534.47 2082.78 536.72 2081.1 539 2079.5C540.9 2078.17 543.05 2077.24 545 2076C546.72 2074.91 548.46 2073.82 550 2072.5C551.39 2071.31 552.7 2070 553.75 2068.5C555.05 2066.64 556.13 2064.6 557 2062.5C558.22 2059.58 559.16 2056.55 560 2053.5C561.5 2048.04 562.89 2042.55 564 2037C565.39 2030.04 566.54 2023.03 567.5 2016C568.87 2006.03 569.89 1996.01 571 1986C572.39 1973.51 573.68 1961 575 1948.5C576.35 1935.67 577.72 1922.84 579 1910C580.22 1897.84 581.49 1885.68 582.5 1873.5C584.32 1851.51 585.64 1829.48 587.5 1807.5C588.56 1794.98 590 1782.5 591.25 1770C592.5 1757.5 593.64 1744.99 595 1732.5C595.89 1724.32 596.8 1716.14 598 1708C598.89 1701.97 599.82 1695.93 601.25 1690C602 1686.9 602.95 1683.79 604.5 1681C605.11 1679.91 606.27 1678.54 607.5 1678.75C608.95 1678.99 609.89 1680.66 610.5 1682C612.02 1685.34 612.92 1688.93 613.75 1692.5C615.09 1698.28 616.08 1704.14 617 1710C618.17 1717.48 619.22 1724.97 620 1732.5C621.47 1746.65 622.46 1760.84 623.75 1775C624.96 1788.34 626.33 1801.66 627.5 1815C628.75 1829.33 629.74 1843.67 631 1858C632.24 1872.01 633.79 1885.99 635 1900C636.29 1914.99 637.25 1930.01 638.5 1945C639.75 1960.01 640.91 1975.02 642.5 1990C643.91 2003.36 645.9 2016.66 647.5 2030C649.24 2044.49 650.58 2059.03 652.5 2073.5C653.41 2080.37 654.64 2087.2 656 2094C657.14 2099.71 658.35 2105.42 660 2111C661.36 2115.6 663.05 2120.11 665 2124.5C666.39 2127.64 667.78 2130.89 670 2133.5C672.03 2135.89 674.75 2137.68 677.5 2139.2C679.82 2140.48 682.4 2141.31 685 2141.8C688.28 2142.42 691.66 2142.42 695 2142.5C698.33 2142.58 701.67 2142.38 705 2142.25C710 2142.05 715 2141.82 720 2141.5C726.67 2141.07 733.33 2140.44 740 2140C745 2139.67 750 2139.4 755 2139.2C758.33 2139.07 761.67 2138.98 765 2139C768.33 2139.02 771.67 2139.1 775 2139.3C780.01 2139.6 785 2140.05 790 2140.5C795 2140.95 800 2141.53 805 2142C810 2142.47 815 2142.9 820 2143.3C826.66 2143.83 833.33 2144.42 840 2144.8C846.66 2145.18 853.33 2145.54 860 2145.6C873.33 2145.71 886.67 2145.36 900 2145.3C910 2145.26 920 2145.22 930 2145.3C940 2145.38 950 2145.67 960 2145.8C973.33 2145.97 986.67 2146.14 1000 2146.2C1024.8 2146.31 1049.6 2146.27 1074.4 2146.3" fill="none" stroke="#dd2f36" stroke-width="2.1" stroke-linejoin="round" stroke-opacity="0.92"/>
<path d="M453.3 1580C453.47 1648.67 453.59 1717.33 453.8 1786C453.92 1824 454.06 1862 454.3 1900C454.53 1937 454.73 1974 455.2 2011C455.63 2044.34 456.06 2077.67 457 2111C457.16 2116.69 457.79 2122.36 458.5 2128C458.79 2130.29 459.24 2132.57 460 2134.75C460.42 2135.95 461.08 2137.13 462 2138C462.65 2138.62 463.61 2138.93 464.5 2139C465.67 2139.1 466.85 2138.74 468 2138.5C469.68 2138.14 471.31 2137.55 473 2137.2C475.32 2136.72 477.64 2136.19 480 2136C483.32 2135.73 486.67 2135.73 490 2135.8C495 2135.9 500 2136.26 505 2136.5C510 2136.74 515.01 2136.82 520 2137.25C522.69 2137.48 525.36 2137.93 528 2138.5C530.37 2139.01 532.66 2139.86 535 2140.5C537.33 2141.13 539.64 2141.83 542 2142.3C544.64 2142.83 547.32 2143.23 550 2143.5C554.99 2144 560 2144.31 565 2144.6C570 2144.89 575 2145.05 580 2145.25C586.67 2145.52 593.33 2145.83 600 2146C610 2146.25 620 2146.49 630 2146.5C778.13 2146.66 926.27 2146.5 1074.4 2146.5" fill="none" stroke="#3a7cb6" stroke-width="2.1" stroke-linejoin="round" stroke-opacity="0.9"/>
<path d="M453.5 1580C453.67 1620 453.81 1660 454 1700C454.14 1728.67 454.29 1757.33 454.5 1786C454.79 1824 454.94 1862 455.5 1900C455.94 1930 456.71 1960 457.5 1990C458.21 2016.67 458.77 2043.35 460 2070C460.43 2079.36 461.37 2088.7 462.5 2098C463.03 2102.38 463.79 2106.76 465 2111C465.8 2113.8 467 2116.5 468.5 2119C469.53 2120.72 471 2122.16 472.5 2123.5C474.19 2125.01 476.02 2126.39 478 2127.5C480.21 2128.74 482.6 2129.67 485 2130.5C486.95 2131.17 488.96 2131.68 491 2132C492.73 2132.27 494.51 2132.49 496.25 2132.25C498.24 2131.98 500.17 2131.31 502 2130.5C503.95 2129.64 505.96 2128.72 507.5 2127.25C510.03 2124.83 512.06 2121.91 514 2119C516.24 2115.65 517.93 2111.96 520 2108.5C521.93 2105.29 523.92 2102.12 526 2099C528.09 2095.86 530.08 2092.64 532.5 2089.75C534.43 2087.45 536.65 2085.38 539 2083.5C540.84 2082.03 543.05 2081.08 545 2079.75C546.72 2078.58 548.42 2077.36 550 2076C551.34 2074.85 552.8 2073.74 553.75 2072.25C555.17 2070.02 556.12 2067.5 557 2065C558.21 2061.57 559.1 2058.03 560 2054.5C561.44 2048.86 562.89 2043.21 564 2037.5C565.39 2030.37 566.52 2023.19 567.5 2016C568.86 2006.02 569.89 1996.01 571 1986C572.39 1973.51 573.68 1961 575 1948.5C576.35 1935.67 577.72 1922.84 579 1910C580.22 1897.84 581.49 1885.68 582.5 1873.5C584.32 1851.51 585.64 1829.48 587.5 1807.5C588.56 1794.98 590 1782.5 591.25 1770C592.5 1757.5 593.64 1744.99 595 1732.5C595.89 1724.32 596.8 1716.14 598 1708C598.89 1701.97 599.82 1695.93 601.25 1690C602 1686.9 602.95 1683.79 604.5 1681C605.11 1679.91 606.27 1678.54 607.5 1678.75C608.95 1678.99 609.89 1680.66 610.5 1682C612.02 1685.34 612.92 1688.93 613.75 1692.5C615.09 1698.28 616.08 1704.14 617 1710C618.17 1717.48 619.22 1724.97 620 1732.5C621.47 1746.65 622.46 1760.84 623.75 1775C624.96 1788.34 626.33 1801.66 627.5 1815C628.75 1829.33 629.74 1843.67 631 1858C632.24 1872.01 633.79 1885.99 635 1900C636.29 1914.99 637.25 1930.01 638.5 1945C639.75 1960.01 640.91 1975.02 642.5 1990C643.91 2003.36 645.9 2016.66 647.5 2030C649.24 2044.49 650.58 2059.03 652.5 2073.5C653.41 2080.37 654.64 2087.2 656 2094C657.14 2099.71 658.35 2105.42 660 2111C661.36 2115.6 663.05 2120.11 665 2124.5C666.39 2127.64 667.78 2130.89 670 2133.5C672.03 2135.89 674.75 2137.68 677.5 2139.2C679.82 2140.48 682.4 2141.31 685 2141.8C688.28 2142.42 691.66 2142.42 695 2142.5C698.33 2142.58 701.67 2142.38 705 2142.25C710 2142.05 715 2141.82 720 2141.5C726.67 2141.07 733.33 2140.44 740 2140C745 2139.67 750 2139.4 755 2139.2C758.33 2139.07 761.67 2138.98 765 2139C768.33 2139.02 771.67 2139.1 775 2139.3C780.01 2139.6 785 2140.05 790 2140.5C795 2140.95 800 2141.53 805 2142C810 2142.47 815 2142.9 820 2143.3C826.66 2143.83 833.33 2144.42 840 2144.8C846.66 2145.18 853.33 2145.54 860 2145.6C873.33 2145.71 886.67 2145.36 900 2145.3C910 2145.26 920 2145.22 930 2145.3C940 2145.38 950 2145.67 960 2145.8C973.33 2145.97 986.67 2146.14 1000 2146.2C1024.8 2146.31 1049.6 2146.27 1074.4 2146.3" fill="none" stroke="#46a845" stroke-width="2.1" stroke-linejoin="round" stroke-opacity="0.72"/>
</g>
<text x="734.5" y="1668" font-size="24.3" fill="#222">kmer</text>
<line x1="738.8" y1="1696.8" x2="764.5" y2="1696.8" stroke="#dd2f36" stroke-width="2.2"/>
<text x="776.3" y="1704.5" font-size="24.3">paternal</text>
<line x1="738.8" y1="1728.8" x2="764.5" y2="1728.8" stroke="#3a7cb6" stroke-width="2.2"/>
<text x="776.3" y="1736.3" font-size="24.3">paternal - maternal</text>
<line x1="738.8" y1="1761.8" x2="764.5" y2="1761.8" stroke="#46a845" stroke-width="2.2"/>
<text x="776.3" y="1768.3" font-size="24.3">shared</text>
<rect x="418.75" y="1586.25" width="655.65" height="586.75" fill="none" stroke="#858585" stroke-width="1.8"/>
<line x1="446.3" y1="2173" x2="446.3" y2="2178.5" stroke="#555" stroke-width="1.8"/>
<text x="446.3" y="2199.3" font-size="24.3" text-anchor="middle" fill="#444444">0</text>
<line x1="565.68" y1="2173" x2="565.68" y2="2178.5" stroke="#555" stroke-width="1.8"/>
<text x="564.68" y="2199.3" font-size="24.3" text-anchor="middle" fill="#444444">50</text>
<line x1="685.05" y1="2173" x2="685.05" y2="2178.5" stroke="#555" stroke-width="1.8"/>
<text x="686.05" y="2199.3" font-size="24.3" text-anchor="middle" fill="#444444">100</text>
<line x1="804.42" y1="2173" x2="804.42" y2="2178.5" stroke="#555" stroke-width="1.8"/>
<text x="807.82" y="2199.3" font-size="24.3" text-anchor="middle" fill="#444444">150</text>
<line x1="923.8" y1="2173" x2="923.8" y2="2178.5" stroke="#555" stroke-width="1.8"/>
<text x="925.8" y="2199.3" font-size="24.3" text-anchor="middle" fill="#444444">200</text>
<line x1="1043.17" y1="2173" x2="1043.17" y2="2178.5" stroke="#555" stroke-width="1.8"/>
<text x="1044.17" y="2199.3" font-size="24.3" text-anchor="middle" fill="#444444">250</text>
<line x1="413.25" y1="2146.5" x2="418.75" y2="2146.5" stroke="#555" stroke-width="1.8"/>
<text x="408.45" y="2154.2" font-size="24.3" text-anchor="end" fill="#444444">0</text>
<line x1="413.25" y1="1998.2" x2="418.75" y2="1998.2" stroke="#555" stroke-width="1.8"/>
<text x="411.35" y="2010.3" font-size="24.3" text-anchor="end" fill="#444444">2.5 x 10<tspan font-size="12" dy="-9.6" dx="1.6">7</tspan></text>
<line x1="413.25" y1="1849.9" x2="418.75" y2="1849.9" stroke="#555" stroke-width="1.8"/>
<text x="410.05" y="1861.2" font-size="24.3" text-anchor="end" fill="#444444">5 x 10<tspan font-size="12" dy="-9.6" dx="1.6">7</tspan></text>
<line x1="413.25" y1="1701.6" x2="418.75" y2="1701.6" stroke="#555" stroke-width="1.8"/>
<text x="412.05" y="1711.6" font-size="24.3" text-anchor="end" fill="#444444">7.5 x 10<tspan font-size="12" dy="-9.6" dx="1.6">7</tspan></text>
<text x="742.9" y="2248" font-size="29.1" text-anchor="middle">kmer multiplicity</text>
<text x="320" y="1880" font-size="29.1" text-anchor="middle" transform="rotate(-90 320 1880)">count</text>
<text x="520" y="1570.5" font-size="29.25">paternal Illumina kmer multiplicity</text>
<text x="328.5" y="1571.5" font-size="36.5" font-weight="bold">f</text>
</g>
<g id="panel-g">
<rect x="1234.5" y="1588.75" width="642.8" height="576.45" fill="#fefefb"/>
<g clip-path="url(#cg)">
<line x1="1261.9" y1="1588.75" x2="1261.9" y2="2165.2" stroke="#e9e9e9" stroke-width="2"/>
<line x1="1320.49" y1="1588.75" x2="1320.49" y2="2165.2" stroke="#e9e9e9" stroke-width="1.3"/>
<line x1="1379.08" y1="1588.75" x2="1379.08" y2="2165.2" stroke="#e9e9e9" stroke-width="2"/>
<line x1="1437.66" y1="1588.75" x2="1437.66" y2="2165.2" stroke="#e9e9e9" stroke-width="1.3"/>
<line x1="1496.25" y1="1588.75" x2="1496.25" y2="2165.2" stroke="#e9e9e9" stroke-width="2"/>
<line x1="1554.84" y1="1588.75" x2="1554.84" y2="2165.2" stroke="#e9e9e9" stroke-width="1.3"/>
<line x1="1613.43" y1="1588.75" x2="1613.43" y2="2165.2" stroke="#e9e9e9" stroke-width="2"/>
<line x1="1672.01" y1="1588.75" x2="1672.01" y2="2165.2" stroke="#e9e9e9" stroke-width="1.3"/>
<line x1="1730.6" y1="1588.75" x2="1730.6" y2="2165.2" stroke="#e9e9e9" stroke-width="2"/>
<line x1="1789.19" y1="1588.75" x2="1789.19" y2="2165.2" stroke="#e9e9e9" stroke-width="1.3"/>
<line x1="1847.78" y1="1588.75" x2="1847.78" y2="2165.2" stroke="#e9e9e9" stroke-width="2"/>
<line x1="1234.5" y1="2139" x2="1877.3" y2="2139" stroke="#e9e9e9" stroke-width="2"/>
<line x1="1234.5" y1="2073.45" x2="1877.3" y2="2073.45" stroke="#e9e9e9" stroke-width="1.3"/>
<line x1="1234.5" y1="2007.9" x2="1877.3" y2="2007.9" stroke="#e9e9e9" stroke-width="2"/>
<line x1="1234.5" y1="1942.35" x2="1877.3" y2="1942.35" stroke="#e9e9e9" stroke-width="1.3"/>
<line x1="1234.5" y1="1876.8" x2="1877.3" y2="1876.8" stroke="#e9e9e9" stroke-width="2"/>
<line x1="1234.5" y1="1811.25" x2="1877.3" y2="1811.25" stroke="#e9e9e9" stroke-width="1.3"/>
<line x1="1234.5" y1="1745.7" x2="1877.3" y2="1745.7" stroke="#e9e9e9" stroke-width="2"/>
<line x1="1234.5" y1="1680.15" x2="1877.3" y2="1680.15" stroke="#e9e9e9" stroke-width="1.3"/>
<line x1="1234.5" y1="1614.6" x2="1877.3" y2="1614.6" stroke="#e9e9e9" stroke-width="2"/>
<rect x="1552" y="1640" width="270.5" height="148.8" fill="#fefefb"/>
<path d="M1273.5 1583C1273.73 1615.33 1273.94 1647.67 1274.2 1680C1274.44 1710 1274.56 1740 1275 1770C1275.24 1786.67 1275.83 1803.33 1276.25 1820C1276.67 1836.67 1276.98 1853.34 1277.5 1870C1277.81 1880 1278.27 1890 1278.75 1900C1279.52 1916.17 1280.27 1932.34 1281.25 1948.5C1281.69 1955.68 1282.28 1962.85 1283 1970C1283.53 1975.35 1284.08 1980.7 1285 1986C1285.59 1989.39 1286.56 1992.7 1287.5 1996C1288.22 1998.53 1288.82 2001.14 1290 2003.5C1291.34 2006.19 1293.23 2008.57 1295 2011C1296.57 2013.16 1298.16 2015.32 1300 2017.25C1301.51 2018.83 1303.22 2020.23 1305 2021.5C1306.4 2022.49 1307.8 2023.8 1309.5 2024C1310.91 2024.17 1312.33 2023.31 1313.5 2022.5C1315.05 2021.43 1316.5 2020.1 1317.5 2018.5C1319.04 2016.03 1319.98 2013.23 1321 2010.5C1322.48 2006.55 1323.9 2002.57 1325 1998.5C1326.57 1992.72 1327.83 1986.87 1329 1981C1330.33 1974.36 1331.41 1967.68 1332.5 1961C1333.75 1953.35 1334.85 1945.67 1336 1938C1337.35 1929 1338.61 1919.99 1340 1911C1341.19 1903.32 1342.47 1895.66 1343.75 1888C1344.97 1880.66 1346.07 1873.3 1347.5 1866C1348.49 1860.96 1349.75 1855.98 1351 1851C1352.26 1845.98 1353.39 1840.92 1355 1836C1356.07 1832.73 1357.65 1829.66 1359 1826.5C1360.15 1823.82 1361.56 1821.25 1362.5 1818.5C1363.9 1814.41 1364.95 1810.2 1366 1806C1367.03 1801.86 1368 1797.7 1368.75 1793.5C1369.67 1788.36 1370.43 1783.19 1371 1778C1372.1 1768.02 1373.01 1758.01 1373.75 1748C1374.68 1735.35 1375.39 1722.67 1376 1710C1376.64 1696.67 1377 1683.33 1377.5 1670C1378 1656.67 1378.54 1643.33 1379 1630C1379.54 1614.33 1380 1598.67 1380.5 1583" fill="none" stroke="#dd2f36" stroke-width="2.1" stroke-linejoin="round" stroke-opacity="0.92"/>
<path d="M1457 1583C1457.5 1602 1457.99 1621 1458.5 1640C1458.99 1658.33 1459.39 1676.67 1460 1695C1460.56 1711.67 1461.34 1728.33 1462 1745C1462.59 1760 1463.2 1775 1463.75 1790C1464.54 1811.67 1465.15 1833.34 1466 1855C1466.56 1869.34 1467.29 1883.67 1468 1898C1468.63 1910.67 1469.26 1923.34 1470 1936C1470.76 1949 1471.49 1962.01 1472.5 1975C1473.15 1983.35 1474.24 1991.66 1475 2000C1476.07 2011.66 1476.83 2023.35 1478 2035C1478.5 2040.02 1479.29 2045.01 1480 2050C1480.95 2056.67 1481.85 2063.36 1483 2070C1483.93 2075.36 1485.01 2080.7 1486.25 2086C1487.35 2090.7 1488.47 2095.42 1490 2100C1490.98 2102.94 1492.33 2105.75 1493.75 2108.5C1494.83 2110.59 1496.08 2112.61 1497.5 2114.5C1498.85 2116.29 1500.21 2118.15 1502 2119.5C1503.45 2120.6 1505.24 2121.23 1507 2121.7C1508.62 2122.14 1510.33 2122.29 1512 2122.2C1514.69 2122.06 1517.38 2121.64 1520 2121C1523.4 2120.17 1526.72 2119.03 1530 2117.8C1533.4 2116.53 1536.68 2114.97 1540 2113.5C1544.18 2111.64 1548.22 2109.43 1552.5 2107.8C1556.57 2106.25 1560.74 2104.91 1565 2104C1568.28 2103.3 1571.65 2102.95 1575 2103C1578.36 2103.05 1581.71 2103.6 1585 2104.3C1588.4 2105.02 1591.78 2105.93 1595 2107.25C1598.48 2108.68 1601.72 2110.65 1605 2112.5C1608.39 2114.41 1611.62 2116.58 1615 2118.5C1618.96 2120.75 1622.85 2123.13 1627 2125C1631.21 2126.89 1635.57 2128.46 1640 2129.75C1643.93 2130.9 1647.96 2131.69 1652 2132.3C1656.3 2132.95 1660.65 2133.31 1665 2133.5C1670 2133.71 1675 2133.58 1680 2133.5C1685.84 2133.41 1691.67 2133.17 1697.5 2133C1703.33 2132.83 1709.17 2132.62 1715 2132.5C1721.67 2132.37 1728.33 2132.17 1735 2132.25C1741.67 2132.33 1748.34 2132.64 1755 2133C1760.84 2133.31 1766.67 2133.83 1772.5 2134.25C1778.33 2134.67 1784.16 2135.15 1790 2135.5C1796.66 2135.9 1803.33 2136.3 1810 2136.5C1820 2136.8 1830 2136.89 1840 2137C1852.5 2137.14 1865 2137.17 1877.5 2137.25" fill="none" stroke="#dd2f36" stroke-width="2.1" stroke-linejoin="round" stroke-opacity="0.92"/>
<path d="M1271.25 1583C1271.33 1650.67 1271.37 1718.33 1271.5 1786C1271.62 1852.67 1271.61 1919.33 1272 1986C1272.11 2004 1272.64 2022 1273 2040C1273.22 2051.17 1273.29 2062.34 1273.75 2073.5C1273.95 2078.35 1274.46 2083.18 1275 2088C1275.3 2090.68 1275.57 2093.39 1276.25 2096C1276.58 2097.26 1277.16 2098.5 1278 2099.5C1278.48 2100.07 1279.3 2100.75 1280 2100.5C1281.44 2099.97 1282.38 2098.55 1283.5 2097.5C1284.88 2096.21 1286.06 2094.72 1287.5 2093.5C1288.9 2092.31 1290.34 2091.1 1292 2090.3C1293.31 2089.66 1294.79 2089.22 1296.25 2089.25C1298.54 2089.29 1300.79 2089.92 1303 2090.5C1306.21 2091.34 1309.29 2092.65 1312.5 2093.5C1315.63 2094.32 1318.82 2094.9 1322 2095.5C1325.49 2096.15 1329.08 2096.29 1332.5 2097.25C1334.47 2097.8 1336.26 2098.91 1338 2100C1339.61 2101.01 1341.09 2102.22 1342.5 2103.5C1344.77 2105.56 1346.83 2107.83 1349 2110C1351 2112 1352.92 2114.09 1355 2116C1356.92 2117.76 1358.87 2119.51 1361 2121C1363.05 2122.43 1365.19 2123.79 1367.5 2124.75C1369.89 2125.74 1372.47 2126.25 1375 2126.8C1377.47 2127.34 1380 2127.62 1382.5 2128C1386.66 2128.62 1390.83 2129.22 1395 2129.8C1399.16 2130.38 1403.34 2130.88 1407.5 2131.5C1411.67 2132.12 1415.83 2132.83 1420 2133.5C1424.17 2134.17 1428.33 2134.87 1432.5 2135.5C1436.66 2136.13 1440.82 2136.8 1445 2137.3C1449.16 2137.8 1453.32 2138.22 1457.5 2138.5C1461.66 2138.78 1465.83 2138.9 1470 2139C1475.83 2139.15 1481.67 2139.25 1487.5 2139.25C1617.5 2139.33 1747.5 2139.25 1877.5 2139.25" fill="none" stroke="#3a7cb6" stroke-width="2.1" stroke-linejoin="round" stroke-opacity="0.9"/>
<path d="M1273.5 1583C1273.73 1615.33 1273.96 1647.67 1274.2 1680C1274.46 1715.33 1274.65 1750.67 1275 1786C1275.25 1810.67 1275.61 1835.33 1276 1860C1276.27 1877 1276.53 1894 1277 1911C1277.36 1924 1277.98 1937 1278.5 1950C1278.98 1962 1279.23 1974.01 1280 1986C1280.56 1994.69 1281.54 2003.35 1282.5 2012C1283.21 2018.35 1283.86 2024.72 1285 2031C1285.86 2035.73 1287.12 2040.39 1288.5 2045C1289.62 2048.74 1290.96 2052.41 1292.5 2056C1293.47 2058.26 1294.63 2060.45 1296 2062.5C1297.15 2064.22 1298.49 2065.83 1300 2067.25C1301.18 2068.36 1302.55 2069.28 1304 2070C1305.09 2070.54 1306.29 2071.08 1307.5 2071C1308.92 2070.91 1310.32 2070.29 1311.5 2069.5C1312.87 2068.58 1314.18 2067.43 1315 2066C1316.72 2063.02 1317.91 2059.76 1319 2056.5C1320.42 2052.24 1321.48 2047.87 1322.5 2043.5C1323.81 2037.87 1324.87 2032.17 1326 2026.5C1327.37 2019.67 1328.72 2012.84 1330 2006C1331.31 1999.01 1332.58 1992.01 1333.75 1985C1335.08 1977.01 1336.3 1969.01 1337.5 1961C1338.8 1952.34 1339.95 1943.66 1341.25 1935C1342.45 1926.99 1343.68 1918.99 1345 1911C1346.27 1903.32 1347.65 1895.66 1349 1888C1350.15 1881.5 1351.12 1874.96 1352.5 1868.5C1353.62 1863.28 1355.1 1858.15 1356.5 1853C1357.6 1848.98 1358.83 1845 1360 1841C1361.17 1837 1362.38 1833.01 1363.5 1829C1364.47 1825.51 1365.53 1822.05 1366.25 1818.5C1367.36 1813.04 1368.21 1807.52 1369 1802C1369.96 1795.35 1370.91 1788.69 1371.5 1782C1372.5 1770.69 1373.04 1759.34 1373.75 1748C1374.54 1735.34 1375.39 1722.67 1376 1710C1376.64 1696.67 1377 1683.33 1377.5 1670C1378 1656.67 1378.54 1643.33 1379 1630C1379.54 1614.33 1380 1598.67 1380.5 1583" fill="none" stroke="#46a845" stroke-width="2.1" stroke-linejoin="round" stroke-opacity="0.72"/>
<path d="M1457 1583C1457.5 1602 1457.99 1621 1458.5 1640C1458.99 1658.33 1459.39 1676.67 1460 1695C1460.56 1711.67 1461.34 1728.33 1462 1745C1462.59 1760 1463.2 1775 1463.75 1790C1464.54 1811.67 1465.15 1833.34 1466 1855C1466.56 1869.34 1467.29 1883.67 1468 1898C1468.63 1910.67 1469.26 1923.34 1470 1936C1470.76 1949 1471.49 1962.01 1472.5 1975C1473.15 1983.35 1474.24 1991.66 1475 2000C1476.07 2011.66 1476.83 2023.35 1478 2035C1478.5 2040.02 1479.29 2045.01 1480 2050C1480.95 2056.67 1481.85 2063.36 1483 2070C1483.93 2075.36 1485.01 2080.7 1486.25 2086C1487.35 2090.7 1488.47 2095.42 1490 2100C1490.98 2102.94 1492.33 2105.75 1493.75 2108.5C1494.83 2110.59 1496.08 2112.61 1497.5 2114.5C1498.85 2116.29 1500.21 2118.15 1502 2119.5C1503.45 2120.6 1505.24 2121.23 1507 2121.7C1508.62 2122.14 1510.33 2122.29 1512 2122.2C1514.69 2122.06 1517.38 2121.64 1520 2121C1523.4 2120.17 1526.72 2119.03 1530 2117.8C1533.4 2116.53 1536.68 2114.97 1540 2113.5C1544.18 2111.64 1548.22 2109.43 1552.5 2107.8C1556.57 2106.25 1560.74 2104.91 1565 2104C1568.28 2103.3 1571.65 2102.95 1575 2103C1578.36 2103.05 1581.71 2103.6 1585 2104.3C1588.4 2105.02 1591.78 2105.93 1595 2107.25C1598.48 2108.68 1601.72 2110.65 1605 2112.5C1608.39 2114.41 1611.62 2116.58 1615 2118.5C1618.96 2120.75 1622.85 2123.13 1627 2125C1631.21 2126.89 1635.57 2128.46 1640 2129.75C1643.93 2130.9 1647.96 2131.69 1652 2132.3C1656.3 2132.95 1660.65 2133.31 1665 2133.5C1670 2133.71 1675 2133.58 1680 2133.5C1685.84 2133.41 1691.67 2133.17 1697.5 2133C1703.33 2132.83 1709.17 2132.62 1715 2132.5C1721.67 2132.37 1728.33 2132.17 1735 2132.25C1741.67 2132.33 1748.34 2132.64 1755 2133C1760.84 2133.31 1766.67 2133.83 1772.5 2134.25C1778.33 2134.67 1784.16 2135.15 1790 2135.5C1796.66 2135.9 1803.33 2136.3 1810 2136.5C1820 2136.8 1830 2136.89 1840 2137C1852.5 2137.14 1865 2137.17 1877.5 2137.25" fill="none" stroke="#46a845" stroke-width="2.1" stroke-linejoin="round" stroke-opacity="0.72"/>
</g>
<text x="1562.5" y="1668" font-size="24.3" fill="#222">kmer</text>
<line x1="1566.3" y1="1696.8" x2="1592.5" y2="1696.8" stroke="#dd2f36" stroke-width="2.2"/>
<text x="1604.5" y="1704.5" font-size="24.3">paternal</text>
<line x1="1566.3" y1="1728.8" x2="1592.5" y2="1728.8" stroke="#3a7cb6" stroke-width="2.2"/>
<text x="1604.5" y="1736.3" font-size="24.3">paternal - maternal</text>
<line x1="1566.3" y1="1761.8" x2="1592.5" y2="1761.8" stroke="#46a845" stroke-width="2.2"/>
<text x="1604.5" y="1768.3" font-size="24.3">shared</text>
<rect x="1234.5" y="1588.75" width="642.8" height="576.45" fill="none" stroke="#858585" stroke-width="1.8"/>
<line x1="1261.9" y1="2165.2" x2="1261.9" y2="2170.7" stroke="#555" stroke-width="1.8"/>
<text x="1261.9" y="2193.5" font-size="24.3" text-anchor="middle" fill="#444444">0</text>
<line x1="1379.08" y1="2165.2" x2="1379.08" y2="2170.7" stroke="#555" stroke-width="1.8"/>
<text x="1379.08" y="2193.5" font-size="24.3" text-anchor="middle" fill="#444444">50</text>
<line x1="1496.25" y1="2165.2" x2="1496.25" y2="2170.7" stroke="#555" stroke-width="1.8"/>
<text x="1498.95" y="2193.5" font-size="24.3" text-anchor="middle" fill="#444444">100</text>
<line x1="1613.43" y1="2165.2" x2="1613.43" y2="2170.7" stroke="#555" stroke-width="1.8"/>
<text x="1619.03" y="2193.5" font-size="24.3" text-anchor="middle" fill="#444444">150</text>
<line x1="1730.6" y1="2165.2" x2="1730.6" y2="2170.7" stroke="#555" stroke-width="1.8"/>
<text x="1735.5" y="2193.5" font-size="24.3" text-anchor="middle" fill="#444444">200</text>
<line x1="1847.78" y1="2165.2" x2="1847.78" y2="2170.7" stroke="#555" stroke-width="1.8"/>
<text x="1851.78" y="2193.5" font-size="24.3" text-anchor="middle" fill="#444444">250</text>
<line x1="1229" y1="2139" x2="1234.5" y2="2139" stroke="#555" stroke-width="1.8"/>
<text x="1225" y="2146.2" font-size="24.3" text-anchor="end" fill="#444444">0</text>
<line x1="1229" y1="2007.9" x2="1234.5" y2="2007.9" stroke="#555" stroke-width="1.8"/>
<text x="1228.3" y="2019.4" font-size="24.3" text-anchor="end" fill="#444444">5 x 10<tspan font-size="12" dy="-9.6" dx="1.6">6</tspan></text>
<line x1="1229" y1="1876.8" x2="1234.5" y2="1876.8" stroke="#555" stroke-width="1.8"/>
<text x="1228.3" y="1887.3" font-size="24.3" text-anchor="end" fill="#444444">1 x 10<tspan font-size="12" dy="-9.6" dx="1.6">7</tspan></text>
<line x1="1229" y1="1745.7" x2="1234.5" y2="1745.7" stroke="#555" stroke-width="1.8"/>
<text x="1228.3" y="1756.4" font-size="24.3" text-anchor="end" fill="#444444">1.5 x 10<tspan font-size="12" dy="-9.6" dx="1.6">7</tspan></text>
<line x1="1229" y1="1614.6" x2="1234.5" y2="1614.6" stroke="#555" stroke-width="1.8"/>
<text x="1228.3" y="1625.7" font-size="24.3" text-anchor="end" fill="#444444">2 x 10<tspan font-size="12" dy="-9.6" dx="1.6">7</tspan></text>
<text x="1556" y="2240" font-size="29.1" text-anchor="middle">kmer multiplicity</text>
<text x="1139" y="1881" font-size="29.1" text-anchor="middle" transform="rotate(-90 1139 1881)">count</text>
<text x="1145.5" y="1573" font-size="36.5" font-weight="bold">g</text>
</g>
</svg>
</body>
</html>
